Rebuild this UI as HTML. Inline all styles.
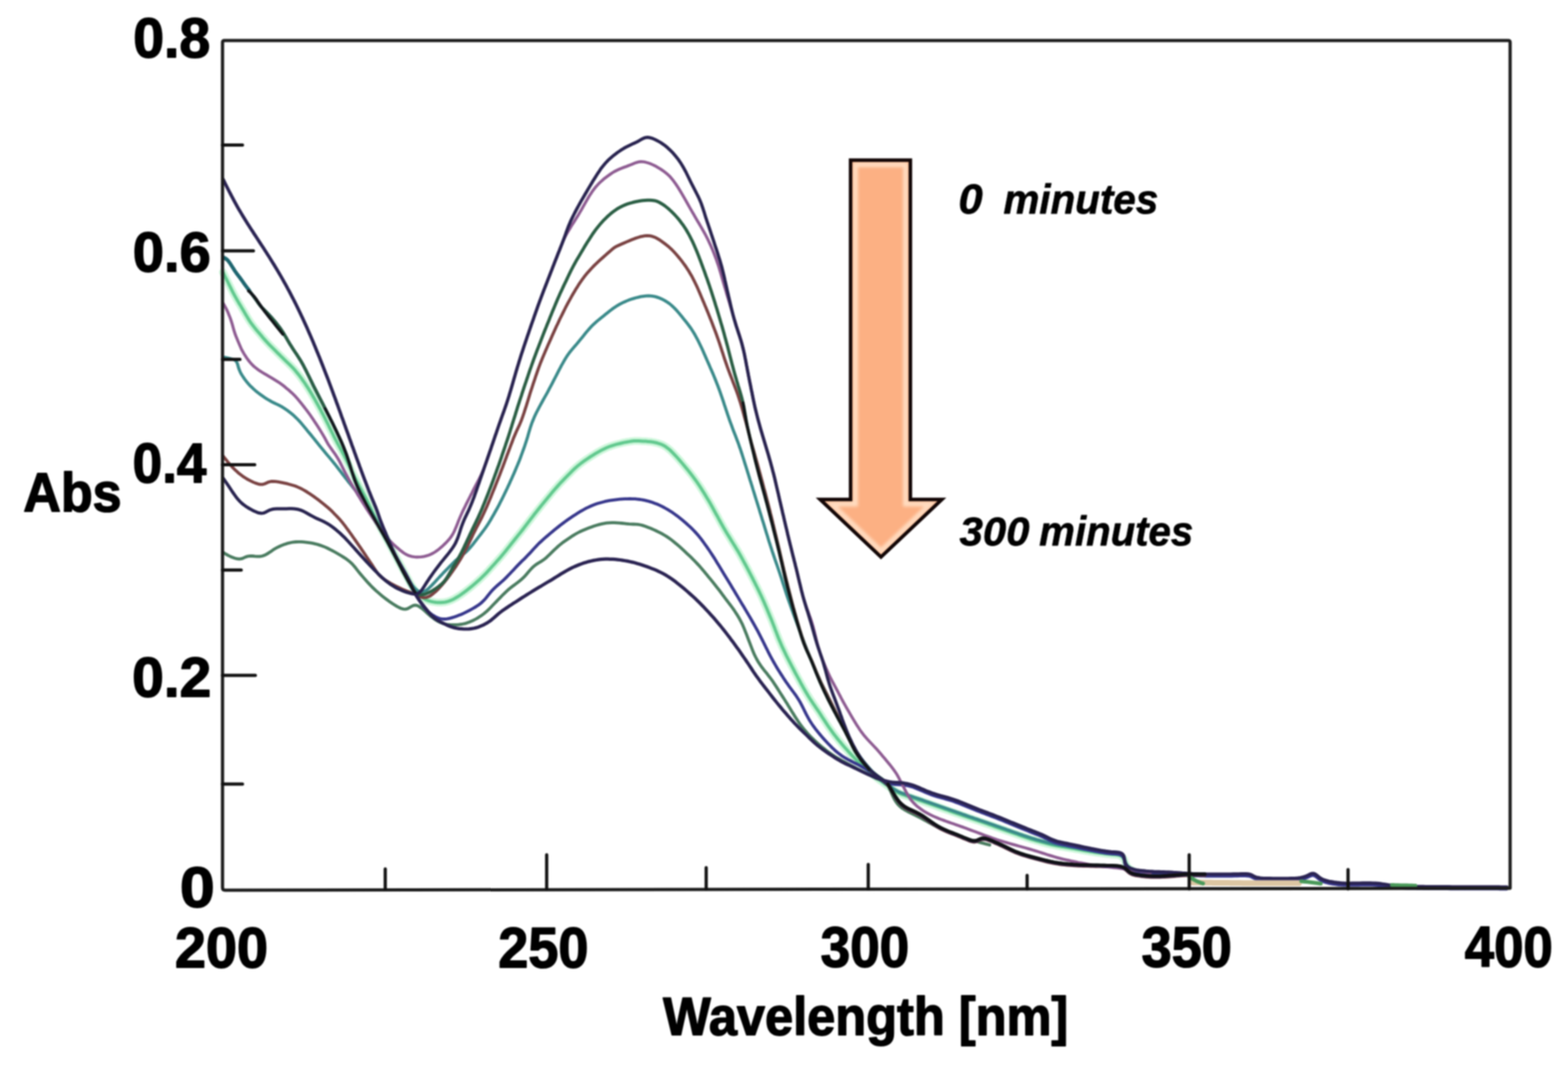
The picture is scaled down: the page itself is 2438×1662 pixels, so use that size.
<!DOCTYPE html>
<html><head><meta charset="utf-8"><style>
html,body{margin:0;padding:0;background:#fff;}
#c{position:relative;width:2438px;height:1662px;overflow:hidden;background:#fff;}
svg{position:absolute;left:0;top:0;filter:blur(1.1px);}
.ax{font-family:"Liberation Sans",Arial,sans-serif;font-weight:bold;fill:#000;stroke:#000;stroke-width:2.2px;stroke-linejoin:round;}
.lb{font-family:"Liberation Sans",Arial,sans-serif;font-weight:bold;font-style:italic;fill:#000;stroke:#000;stroke-width:1px;stroke-linejoin:round;}
</style></head><body><div id="c">
<svg width="2438" height="1662" viewBox="0 0 2438 1662">
<g fill="none" stroke-linecap="round" stroke-linejoin="round">
<path d="M346.6 423.2 L347.5 424.9 L348.8 427.6 L350.4 430.9 L352.2 434.4 L354.0 438.0 L355.7 441.5 L357.4 444.8 L359.0 448.1 L360.6 451.5 L362.3 454.8 L364.1 458.2 L366.0 461.6 L367.9 465.0 L369.9 468.4 L371.9 471.9 L374.0 475.3 L376.0 478.7 L378.0 482.1 L380.0 485.5 L382.0 488.9 L384.0 492.3 L386.0 495.6 L388.0 498.9 L390.1 502.0 L392.4 505.1 L394.7 508.1 L397.0 511.0 L399.4 513.8 L401.8 516.6 L404.2 519.4 L406.5 522.2 L408.9 525.1 L411.5 528.0 L414.2 531.0 L417.0 533.9 L419.6 536.7 L422.4 539.5 L425.2 542.3 L428.2 545.3 L431.1 548.2 L434.1 551.1 L436.9 554.0 L439.8 556.7 L442.6 559.5 L445.4 562.2 L448.1 564.8 L450.8 567.3 L453.4 569.9 L456.0 572.6 L458.5 575.4 L460.9 578.3 L463.2 581.1 L465.5 584.0 L467.7 586.9 L469.9 590.0 L472.1 593.1 L474.4 596.4 L476.6 599.8 L478.8 603.1 L480.8 606.4 L482.8 609.6 L484.7 612.8 L486.6 616.1 L488.6 619.4 L490.5 622.8 L492.4 626.2 L494.4 629.7 L496.3 633.2 L498.2 636.7 L500.0 640.2 L501.9 643.7 L503.7 647.2 L505.5 650.7 L507.3 654.3 L509.1 657.9 L510.9 661.5 L512.6 665.1 L514.4 668.7 L516.1 672.1 L517.8 675.5 L519.4 678.9 L521.2 682.4 L523.1 685.9 L525.0 689.6 L526.9 693.1 L528.8 696.6 L530.6 699.9 L532.4 703.3 L534.2 706.7 L536.0 710.2 L537.8 713.6 L539.5 717.1 L541.2 720.6 L542.9 724.1 L544.6 727.6 L546.3 731.2 L547.9 734.7 L549.6 738.2 L551.3 741.6 L553.1 745.1 L554.9 748.6 L556.8 752.2 L558.6 755.7 L560.5 759.1 L562.4 762.6 L564.3 766.1 L566.2 769.6 L568.0 773.1 L569.8 776.6 L571.5 780.1 L573.2 783.6 L574.9 787.2 L576.6 790.7 L578.3 794.3 L580.0 797.8 L581.7 801.3 L583.4 804.7 L585.1 808.2 L586.9 811.7 L588.8 815.3 L590.7 818.8 L592.6 822.3 L594.4 825.7 L596.3 829.1 L598.1 832.6 L600.0 836.0 L601.9 839.5 L603.8 843.0 L605.6 846.5 L607.5 850.0 L609.4 853.5 L611.3 857.0 L613.1 860.5 L615.0 864.0 L616.9 867.5 L618.8 871.1 L620.6 874.6 L622.5 878.1 L624.4 881.6 L626.2 885.1 L628.1 888.6 L630.0 892.0 L631.8 895.4 L633.7 898.9 L635.5 902.3 L637.3 905.7 L639.2 909.0 L641.1 912.2 L643.1 915.2 L645.4 918.2 L647.9 921.2 L650.7 924.0 L653.6 926.6 L656.7 929.0 L659.8 931.0 L663.2 932.7 L666.7 934.1 L670.4 935.2 L674.2 935.9 L677.9 936.4 L681.6 936.7 L685.3 936.8 L689.1 936.6 L692.8 936.0 L696.3 935.1 L699.8 933.9 L703.1 932.5 L706.3 930.9 L709.5 929.0 L712.7 927.1 L715.9 925.0 L719.0 922.8 L722.1 920.6 L725.2 918.2 L728.3 915.8 L731.4 913.3 L734.4 910.8 L737.3 908.4 L740.2 905.9 L743.0 903.4 L745.9 900.8 L748.6 898.2 L751.4 895.5 L754.2 892.7 L756.9 889.9 L759.6 887.0 L762.2 884.1 L764.8 881.2 L767.4 878.4 L769.9 875.6 L772.3 872.9 L774.8 870.1 L777.3 867.3 L779.8 864.4 L782.2 861.5 L784.7 858.5 L787.2 855.4 L789.6 852.3 L792.1 849.2 L794.5 846.1 L797.0 843.0 L799.5 839.9 L801.9 836.9 L804.4 833.8 L806.8 830.8 L809.3 827.7 L811.7 824.6 L814.1 821.6 L816.4 818.5 L818.7 815.5 L821.0 812.5 L823.3 809.5 L825.6 806.5 L827.9 803.5 L830.2 800.4 L832.6 797.4 L835.0 794.4 L837.4 791.4 L839.8 788.4 L842.3 785.3 L844.8 782.2 L847.3 779.2 L849.8 776.2 L852.2 773.1 L854.8 770.1 L857.3 767.0 L859.9 763.9 L862.5 760.9 L865.1 758.0 L867.7 755.0 L870.3 752.1 L873.0 749.3 L875.7 746.5 L878.3 743.7 L881.0 741.0 L883.7 738.3 L886.3 735.7 L888.9 733.1 L891.4 730.6 L894.0 728.1 L896.8 725.6 L899.8 723.1 L903.0 720.6 L906.1 718.3 L909.1 716.1 L912.2 714.0 L915.4 711.9 L918.7 709.7 L922.1 707.6 L925.5 705.4 L929.1 703.3 L932.6 701.3 L936.1 699.4 L939.7 697.7 L943.3 696.0 L947.0 694.5 L951.0 693.1 L955.0 691.8 L959.1 690.7 L963.1 689.7 L967.1 688.7 L970.8 687.9 L974.5 687.2 L978.1 686.6 L981.8 686.0 L985.7 685.6 L989.6 685.4 L993.2 685.5 L996.6 685.7 L1000.2 685.9 L1003.8 686.1 L1007.5 686.4 L1011.3 686.7 L1015.0 687.3 L1018.7 688.0 L1022.1 688.8 L1025.3 689.8 L1028.6 691.0 L1032.1 692.7 L1035.6 694.9 L1039.0 697.4 L1041.9 699.9 L1044.5 702.4 L1047.0 705.0 L1049.6 707.7 L1052.3 710.6 L1055.0 713.6 L1057.8 716.8 L1060.5 720.0 L1063.3 723.3 L1066.0 726.6 L1068.7 729.8 L1071.2 733.0 L1073.7 736.1 L1076.1 739.2 L1078.5 742.4 L1080.9 745.7 L1083.2 748.9 L1085.4 752.1 L1087.6 755.4 L1089.7 758.6 L1091.7 761.8 L1093.8 765.1 L1095.8 768.4 L1097.8 771.8 L1099.9 775.2 L1101.9 778.6 L1103.9 781.9 L1105.8 785.3 L1107.7 788.7 L1109.6 792.2 L1111.5 795.7 L1113.4 799.2 L1115.4 802.7 L1117.3 806.3 L1119.2 809.8 L1121.1 813.3 L1123.1 816.8 L1125.0 820.3 L1127.0 823.6 L1128.9 826.9 L1130.9 830.2 L1132.9 833.4 L1134.9 836.6 L1136.8 839.8 L1138.8 843.0 L1140.8 846.2 L1142.8 849.4 L1144.8 852.7 L1146.9 856.1 L1148.9 859.6 L1150.9 863.1 L1152.8 866.5 L1154.7 869.9 L1156.5 873.3 L1158.4 876.8 L1160.3 880.3 L1162.2 883.9 L1164.1 887.5 L1166.0 891.2 L1167.9 894.9 L1169.8 898.5 L1171.6 902.1 L1173.4 905.7 L1175.1 909.1 L1176.8 912.5 L1178.5 915.9 L1180.2 919.4 L1181.9 923.0 L1183.7 926.8 L1185.4 930.5 L1187.0 934.1 L1188.5 937.6 L1190.0 941.0 L1191.5 944.4 L1192.9 947.8 L1194.3 951.2 L1195.8 954.7 L1197.2 958.2 L1198.7 961.8 L1200.1 965.3 L1201.5 968.9 L1202.9 972.4 L1204.3 976.0 L1205.6 979.6 L1207.0 983.2 L1208.4 986.9 L1209.8 990.5 L1211.2 994.1 L1212.7 997.6 L1214.3 1001.2 L1215.8 1004.8 L1217.5 1008.3 L1219.2 1011.9 L1220.9 1015.5 L1222.6 1019.1 L1224.4 1022.6 L1226.2 1026.2 L1228.0 1029.7 L1229.8 1033.2 L1231.6 1036.6 L1233.4 1040.0 L1235.2 1043.5 L1237.0 1047.0 L1239.0 1050.6 L1240.9 1054.2 L1242.9 1057.8 L1244.8 1061.4 L1246.8 1064.9 L1248.7 1068.4 L1250.6 1071.7 L1252.4 1074.9 L1254.3 1078.1 L1256.2 1081.3 L1258.2 1084.5 L1260.2 1087.7 L1262.2 1090.7 L1264.2 1093.7 L1266.3 1096.6 L1268.4 1099.8 L1270.6 1103.0 L1272.8 1106.2 L1274.8 1109.2 L1276.8 1112.3 L1278.8 1115.5 L1280.9 1118.7 L1283.1 1122.0 L1285.3 1125.4 L1287.6 1128.8 L1289.9 1132.1 L1292.3 1135.5 L1294.6 1138.7 L1297.0 1141.9 L1299.4 1145.0 L1301.8 1148.1 L1304.3 1151.2 L1306.8 1154.2 L1309.4 1157.3 L1312.0 1160.3 L1314.6 1163.3 L1317.2 1166.2 L1319.7 1169.1 L1322.2 1171.8 L1324.7 1174.5 L1327.4 1177.3 L1330.3 1180.3 L1333.3 1183.3 L1336.3 1186.2 L1339.3 1188.9 L1342.3 1191.5 L1345.1 1194.1 L1348.0 1196.5 L1350.8 1199.0 L1353.9 1201.6 L1357.1 1204.2 L1360.3 1206.9 L1363.4 1209.4 L1366.4 1211.7 L1369.4 1214.0 L1372.5 1216.3 L1375.6 1218.6 L1378.8 1220.8 L1381.9 1223.0 L1384.7 1225.0 L1387.4 1226.9 L1390.1 1228.8 L1393.1 1230.7 L1396.4 1232.5 L1399.7 1234.0 L1403.1 1235.3 L1406.6 1236.5 L1410.3 1237.8 L1414.2 1239.1 L1418.2 1240.4 L1422.2 1241.7 L1426.2 1243.0 L1430.0 1244.3 L1433.8 1245.6 L1437.4 1246.9 L1441.0 1248.2 L1444.6 1249.4 L1448.2 1250.7 L1451.7 1251.9 L1455.3 1253.2 L1458.9 1254.5 L1462.4 1255.7 L1466.0 1257.0 L1469.6 1258.3 L1473.1 1259.5 L1476.7 1260.8 L1480.3 1262.1 L1483.8 1263.3 L1487.4 1264.6 L1491.0 1265.8 L1494.6 1267.1 L1498.2 1268.4 L1501.8 1269.6 L1505.5 1270.9 L1509.2 1272.2 L1512.9 1273.4 L1516.6 1274.7 L1520.3 1275.9 L1524.0 1277.2 L1527.7 1278.5 L1531.3 1279.7 L1535.0 1281.0 L1538.6 1282.3 L1542.2 1283.5 L1545.8 1284.8 L1549.3 1286.1 L1552.9 1287.3 L1556.4 1288.6 L1560.0 1289.8 L1563.6 1291.1 L1567.2 1292.4 L1570.8 1293.6 L1574.5 1294.9 L1578.2 1296.2 L1581.9 1297.5 L1585.6 1298.9 L1589.3 1300.1 L1593.0 1301.4 L1596.7 1302.6 L1600.4 1303.8 L1604.1 1305.0 L1607.9 1306.1 L1611.7 1307.3 L1615.6 1308.3 L1619.4 1309.4 L1623.3 1310.4 L1627.0 1311.4 L1630.8 1312.3 L1634.5 1313.2 L1638.2 1314.0 L1642.1 1314.8 L1646.1 1315.6 L1650.0 1316.2 L1653.8 1316.9 L1657.6 1317.5 L1661.3 1318.1 L1665.1 1318.7 L1668.9 1319.4 L1672.6 1320.0 L1676.4 1320.7 L1680.1 1321.4 L1683.8 1322.1 L1687.6 1322.7 L1691.3 1323.4 L1695.0 1324.0 L1698.8 1324.6 L1702.6 1325.2 L1706.5 1325.7 L1710.3 1326.2 L1714.0 1326.8 L1717.7 1327.3 L1721.4 1327.7 L1725.3 1328.1 L1729.2 1328.4 L1733.2 1328.7 L1736.9 1329.0 L1740.3 1329.7 L1743.3 1330.9 L1745.7 1333.0 L1747.6 1335.9 L1749.0 1339.3 L1750.3 1342.9 L1751.9 1346.3 L1754.4 1349.2 L1757.4 1351.5 L1760.4 1353.3 L1762.6 1354.3" stroke="#cff7dc" stroke-width="12"/>
<path d="M347.3 858.9 L349.1 860.2 L351.9 861.9 L355.0 863.7 L358.2 865.2 L361.4 866.5 L364.8 867.7 L368.3 868.7 L371.9 869.1 L375.4 868.7 L378.7 867.4 L382.1 865.9 L385.6 864.8 L389.2 864.4 L392.7 864.5 L396.4 864.9 L400.2 865.2 L404.0 865.1 L407.7 864.5 L411.2 863.3 L414.5 861.6 L417.8 859.6 L421.1 857.4 L424.4 855.1 L427.7 853.0 L431.1 851.1 L434.6 849.5 L438.1 847.9 L441.7 846.6 L445.2 845.4 L448.8 844.3 L452.4 843.5 L456.2 842.9 L460.1 842.5 L464.0 842.3 L468.0 842.4 L471.9 842.7 L475.9 843.1 L479.8 843.6 L483.6 844.2 L487.4 844.9 L491.3 845.8 L495.1 846.9 L498.8 848.1 L502.5 849.4 L506.1 850.9 L509.6 852.5 L513.2 854.3 L516.7 856.1 L520.2 858.0 L523.7 860.0 L527.1 862.0 L530.5 864.0 L533.9 866.1 L537.3 868.3 L540.5 870.6 L543.5 873.0 L546.3 875.5 L548.9 878.2 L551.4 881.1 L553.7 884.0 L556.1 887.1 L558.6 890.2 L561.0 893.1 L563.5 896.0 L565.9 898.8 L568.4 901.6 L571.0 904.6 L573.7 907.5 L576.4 910.4 L579.2 913.2 L582.1 916.0 L585.0 918.7 L588.0 921.3 L591.1 924.0 L594.2 926.6 L597.4 929.1 L600.5 931.5 L603.6 933.8 L606.7 936.1 L610.0 938.3 L613.5 940.5 L617.0 942.6 L620.5 944.5 L623.8 946.0 L627.1 946.9 L630.3 947.1 L633.6 946.4 L636.7 944.7 L639.8 942.8 L642.7 941.4 L645.6 940.9 L648.6 941.4 L651.6 942.9 L654.6 944.9 L657.5 947.2 L660.3 949.6 L663.1 952.2 L666.1 954.9 L669.0 957.5 L672.1 959.9 L675.1 962.2 L678.2 964.2 L681.4 966.2 L684.7 967.8 L688.1 969.1 L691.7 970.1 L695.3 970.8 L699.1 971.2 L702.9 971.4 L706.8 971.4 L710.6 971.3 L714.4 971.0 L718.2 970.5 L722.1 969.7 L725.8 968.6 L729.5 967.3 L733.0 965.8 L736.5 964.2 L739.7 962.5 L743.0 960.6 L746.1 958.6 L749.3 956.4 L752.4 954.1 L755.3 951.7 L758.2 949.1 L761.0 946.4 L763.7 943.6 L766.5 940.7 L769.2 937.9 L772.0 935.0 L774.7 932.2 L777.4 929.5 L780.1 926.7 L782.8 923.9 L785.6 921.2 L788.5 918.5 L791.4 915.9 L794.5 913.4 L797.6 911.0 L800.8 908.7 L803.9 906.3 L807.1 903.8 L810.1 901.4 L813.0 898.7 L815.9 895.9 L818.6 892.9 L821.2 889.8 L823.8 886.8 L826.3 884.0 L828.9 881.4 L831.8 879.0 L834.7 876.9 L837.8 875.0 L840.9 873.2 L844.1 871.1 L847.1 868.8 L850.1 866.3 L853.0 863.6 L855.9 860.7 L858.9 857.8 L861.7 855.0 L864.5 852.4 L867.3 849.9 L870.0 847.5 L872.7 845.3 L875.4 843.2 L878.2 841.2 L881.2 839.2 L884.1 837.2 L887.1 835.2 L890.3 833.1 L893.7 831.0 L897.2 829.0 L901.0 827.0 L904.7 825.3 L908.3 823.7 L911.9 822.2 L915.6 820.8 L919.3 819.4 L923.2 818.0 L927.2 816.7 L931.2 815.6 L935.2 814.6 L939.1 813.8 L943.0 813.2 L947.0 812.8 L951.0 812.7 L955.0 812.7 L959.1 812.9 L963.1 813.2 L967.1 813.5 L970.8 813.9 L974.5 814.3 L978.0 814.7 L981.6 814.9 L985.3 815.0 L988.8 815.1 L992.2 815.4 L995.7 816.0 L999.2 816.9 L1002.6 818.0 L1005.9 819.2 L1009.1 820.4 L1012.5 821.8 L1016.1 823.4 L1019.7 825.0 L1023.4 826.8 L1027.1 828.7 L1030.8 830.7 L1034.3 832.8 L1037.7 834.9 L1040.9 837.1 L1044.0 839.4 L1047.1 841.8 L1050.1 844.3 L1053.2 846.9 L1056.3 849.5 L1059.3 852.3 L1062.3 855.0 L1065.2 857.7 L1068.0 860.4 L1070.8 863.0 L1073.5 865.6 L1076.3 868.3 L1079.1 871.2 L1082.0 874.1 L1084.7 877.0 L1087.4 879.9 L1089.9 882.8 L1092.3 885.6 L1094.8 888.5 L1097.2 891.5 L1099.7 894.4 L1102.1 897.4 L1104.5 900.3 L1106.9 903.2 L1109.3 906.2 L1111.7 909.2 L1114.0 912.2 L1116.4 915.2 L1118.8 918.3 L1121.2 921.5 L1123.5 924.7 L1125.9 927.8 L1128.1 930.8 L1130.3 933.7 L1132.5 936.6 L1134.7 939.5 L1136.9 942.4 L1139.1 945.4 L1141.3 948.5 L1143.4 951.7 L1145.6 955.1 L1147.7 958.6 L1149.8 962.1 L1151.7 965.7 L1153.5 969.1 L1155.1 972.6 L1156.6 976.1 L1158.1 979.8 L1159.6 983.6 L1161.1 987.4 L1162.6 991.4 L1164.1 995.3 L1165.6 999.2 L1167.1 1003.1 L1168.6 1007.0 L1170.0 1010.7 L1171.5 1014.3 L1173.0 1017.7 L1174.6 1021.0 L1176.4 1024.5 L1178.4 1028.1 L1180.7 1031.7 L1183.0 1035.1 L1185.3 1038.3 L1187.7 1041.4 L1190.0 1044.2 L1192.3 1047.1 L1194.5 1049.9 L1196.7 1052.7 L1198.9 1055.6 L1201.1 1058.7 L1203.2 1061.8 L1205.2 1064.8 L1207.2 1067.9 L1209.1 1070.9 L1211.1 1074.0 L1213.1 1077.2 L1215.3 1080.6 L1217.5 1084.1 L1219.7 1087.5 L1221.7 1090.7 L1223.7 1093.8 L1225.6 1097.0 L1227.6 1100.2 L1229.6 1103.5 L1231.7 1106.9 L1233.9 1110.4 L1236.0 1113.9 L1238.3 1117.3 L1240.5 1120.7 L1242.8 1124.1 L1245.1 1127.3 L1247.5 1130.5 L1249.9 1133.5 L1252.5 1136.6 L1255.1 1139.6 L1257.9 1142.6 L1260.8 1145.6 L1263.7 1148.5 L1266.6 1151.3 L1269.6 1154.0 L1272.6 1156.7 L1275.6 1159.3 L1278.6 1161.8 L1281.6 1164.2 L1284.6 1166.6 L1287.7 1168.9 L1290.9 1171.3 L1294.4 1173.7 L1297.9 1176.0 L1301.5 1178.2 L1305.2 1180.3 L1308.8 1182.3 L1312.3 1184.2 L1315.8 1186.1 L1319.1 1187.8 L1322.4 1189.6 L1325.7 1191.3 L1329.2 1193.2 L1332.8 1195.1 L1336.4 1197.0 L1339.8 1198.8 L1343.0 1200.5 L1346.1 1202.0 L1349.2 1203.6 L1352.4 1205.2 L1355.8 1206.9 L1359.2 1208.6 L1362.6 1210.3 L1365.7 1211.8 L1368.8 1213.3 L1371.9 1214.7 L1375.0 1216.3 L1377.8 1218.4 L1380.1 1221.0 L1382.0 1224.0 L1383.5 1227.1 L1385.0 1230.6 L1386.6 1234.2 L1388.3 1238.0 L1390.2 1241.8 L1392.3 1245.4 L1394.6 1248.7 L1397.1 1251.6 L1399.8 1254.2 L1402.7 1256.5 L1405.9 1258.6 L1409.2 1260.5 L1412.6 1262.4 L1416.2 1264.2 L1419.7 1265.9 L1423.3 1267.6 L1426.8 1269.4 L1430.3 1271.2 L1433.7 1273.0 L1437.1 1274.9 L1440.6 1276.7 L1444.0 1278.6 L1447.4 1280.5 L1450.8 1282.3 L1454.1 1284.1 L1457.5 1285.9 L1460.9 1287.5 L1464.3 1289.2 L1467.8 1290.8 L1471.3 1292.3 L1474.8 1293.8 L1478.3 1295.2 L1481.8 1296.6 L1485.3 1297.9 L1488.9 1299.2 L1492.5 1300.5 L1496.2 1301.7 L1500.0 1303.0 L1503.9 1304.2 L1508.0 1305.4 L1512.2 1306.6 L1516.6 1307.8 L1520.9 1309.0 L1525.2 1310.1 L1529.1 1311.1 L1532.7 1312.1 L1535.8 1312.9 L1538.0 1313.5 L1538.8 1313.7" stroke="#4a7c60" stroke-width="4.8"/>
<path d="M346.6 423.2 L347.5 424.9 L348.8 427.6 L350.4 430.9 L352.2 434.4 L354.0 438.0 L355.7 441.5 L357.4 444.8 L359.0 448.1 L360.6 451.5 L362.3 454.8 L364.1 458.2 L366.0 461.6 L367.9 465.0 L369.9 468.4 L371.9 471.9 L374.0 475.3 L376.0 478.7 L378.0 482.1 L380.0 485.5 L382.0 488.9 L384.0 492.3 L386.0 495.6 L388.0 498.9 L390.1 502.0 L392.4 505.1 L394.7 508.1 L397.0 511.0 L399.4 513.8 L401.8 516.6 L404.2 519.4 L406.5 522.2 L408.9 525.1 L411.5 528.0 L414.2 531.0 L417.0 533.9 L419.6 536.7 L422.4 539.5 L425.2 542.3 L428.2 545.3 L431.1 548.2 L434.1 551.1 L436.9 554.0 L439.8 556.7 L442.6 559.5 L445.4 562.2 L448.1 564.8 L450.8 567.3 L453.4 569.9 L456.0 572.6 L458.5 575.4 L460.9 578.3 L463.2 581.1 L465.5 584.0 L467.7 586.9 L469.9 590.0 L472.1 593.1 L474.4 596.4 L476.6 599.8 L478.8 603.1 L480.8 606.4 L482.8 609.6 L484.7 612.8 L486.6 616.1 L488.6 619.4 L490.5 622.8 L492.4 626.2 L494.4 629.7 L496.3 633.2 L498.2 636.7 L500.0 640.2 L501.9 643.7 L503.7 647.2 L505.5 650.7 L507.3 654.3 L509.1 657.9 L510.9 661.5 L512.6 665.1 L514.4 668.7 L516.1 672.1 L517.8 675.5 L519.4 678.9 L521.2 682.4 L523.1 685.9 L525.0 689.6 L526.9 693.1 L528.8 696.6 L530.6 699.9 L532.4 703.3 L534.2 706.7 L536.0 710.2 L537.8 713.6 L539.5 717.1 L541.2 720.6 L542.9 724.1 L544.6 727.6 L546.3 731.2 L547.9 734.7 L549.6 738.2 L551.3 741.6 L553.1 745.1 L554.9 748.6 L556.8 752.2 L558.6 755.7 L560.5 759.1 L562.4 762.6 L564.3 766.1 L566.2 769.6 L568.0 773.1 L569.8 776.6 L571.5 780.1 L573.2 783.6 L574.9 787.2 L576.6 790.7 L578.3 794.3 L580.0 797.8 L581.7 801.3 L583.4 804.7 L585.1 808.2 L586.9 811.7 L588.8 815.3 L590.7 818.8 L592.6 822.3 L594.4 825.7 L596.3 829.1 L598.1 832.6 L600.0 836.0 L601.9 839.5 L603.8 843.0 L605.6 846.5 L607.5 850.0 L609.4 853.5 L611.3 857.0 L613.1 860.5 L615.0 864.0 L616.9 867.5 L618.8 871.1 L620.6 874.6 L622.5 878.1 L624.4 881.6 L626.2 885.1 L628.1 888.6 L630.0 892.0 L631.8 895.4 L633.7 898.9 L635.5 902.3 L637.3 905.7 L639.2 909.0 L641.1 912.2 L643.1 915.2 L645.4 918.2 L647.9 921.2 L650.7 924.0 L653.6 926.6 L656.7 929.0 L659.8 931.0 L663.2 932.7 L666.7 934.1 L670.4 935.2 L674.2 935.9 L677.9 936.4 L681.6 936.7 L685.3 936.8 L689.1 936.6 L692.8 936.0 L696.3 935.1 L699.8 933.9 L703.1 932.5 L706.3 930.9 L709.5 929.0 L712.7 927.1 L715.9 925.0 L719.0 922.8 L722.1 920.6 L725.2 918.2 L728.3 915.8 L731.4 913.3 L734.4 910.8 L737.3 908.4 L740.2 905.9 L743.0 903.4 L745.9 900.8 L748.6 898.2 L751.4 895.5 L754.2 892.7 L756.9 889.9 L759.6 887.0 L762.2 884.1 L764.8 881.2 L767.4 878.4 L769.9 875.6 L772.3 872.9 L774.8 870.1 L777.3 867.3 L779.8 864.4 L782.2 861.5 L784.7 858.5 L787.2 855.4 L789.6 852.3 L792.1 849.2 L794.5 846.1 L797.0 843.0 L799.5 839.9 L801.9 836.9 L804.4 833.8 L806.8 830.8 L809.3 827.7 L811.7 824.6 L814.1 821.6 L816.4 818.5 L818.7 815.5 L821.0 812.5 L823.3 809.5 L825.6 806.5 L827.9 803.5 L830.2 800.4 L832.6 797.4 L835.0 794.4 L837.4 791.4 L839.8 788.4 L842.3 785.3 L844.8 782.2 L847.3 779.2 L849.8 776.2 L852.2 773.1 L854.8 770.1 L857.3 767.0 L859.9 763.9 L862.5 760.9 L865.1 758.0 L867.7 755.0 L870.3 752.1 L873.0 749.3 L875.7 746.5 L878.3 743.7 L881.0 741.0 L883.7 738.3 L886.3 735.7 L888.9 733.1 L891.4 730.6 L894.0 728.1 L896.8 725.6 L899.8 723.1 L903.0 720.6 L906.1 718.3 L909.1 716.1 L912.2 714.0 L915.4 711.9 L918.7 709.7 L922.1 707.6 L925.5 705.4 L929.1 703.3 L932.6 701.3 L936.1 699.4 L939.7 697.7 L943.3 696.0 L947.0 694.5 L951.0 693.1 L955.0 691.8 L959.1 690.7 L963.1 689.7 L967.1 688.7 L970.8 687.9 L974.5 687.2 L978.1 686.6 L981.8 686.0 L985.7 685.6 L989.6 685.4 L993.2 685.5 L996.6 685.7 L1000.2 685.9 L1003.8 686.1 L1007.5 686.4 L1011.3 686.7 L1015.0 687.3 L1018.7 688.0 L1022.1 688.8 L1025.3 689.8 L1028.6 691.0 L1032.1 692.7 L1035.6 694.9 L1039.0 697.4 L1041.9 699.9 L1044.5 702.4 L1047.0 705.0 L1049.6 707.7 L1052.3 710.6 L1055.0 713.6 L1057.8 716.8 L1060.5 720.0 L1063.3 723.3 L1066.0 726.6 L1068.7 729.8 L1071.2 733.0 L1073.7 736.1 L1076.1 739.2 L1078.5 742.4 L1080.9 745.7 L1083.2 748.9 L1085.4 752.1 L1087.6 755.4 L1089.7 758.6 L1091.7 761.8 L1093.8 765.1 L1095.8 768.4 L1097.8 771.8 L1099.9 775.2 L1101.9 778.6 L1103.9 781.9 L1105.8 785.3 L1107.7 788.7 L1109.6 792.2 L1111.5 795.7 L1113.4 799.2 L1115.4 802.7 L1117.3 806.3 L1119.2 809.8 L1121.1 813.3 L1123.1 816.8 L1125.0 820.3 L1127.0 823.6 L1128.9 826.9 L1130.9 830.2 L1132.9 833.4 L1134.9 836.6 L1136.8 839.8 L1138.8 843.0 L1140.8 846.2 L1142.8 849.4 L1144.8 852.7 L1146.9 856.1 L1148.9 859.6 L1150.9 863.1 L1152.8 866.5 L1154.7 869.9 L1156.5 873.3 L1158.4 876.8 L1160.3 880.3 L1162.2 883.9 L1164.1 887.5 L1166.0 891.2 L1167.9 894.9 L1169.8 898.5 L1171.6 902.1 L1173.4 905.7 L1175.1 909.1 L1176.8 912.5 L1178.5 915.9 L1180.2 919.4 L1181.9 923.0 L1183.7 926.8 L1185.4 930.5 L1187.0 934.1 L1188.5 937.6 L1190.0 941.0 L1191.5 944.4 L1192.9 947.8 L1194.3 951.2 L1195.8 954.7 L1197.2 958.2 L1198.7 961.8 L1200.1 965.3 L1201.5 968.9 L1202.9 972.4 L1204.3 976.0 L1205.6 979.6 L1207.0 983.2 L1208.4 986.9 L1209.8 990.5 L1211.2 994.1 L1212.7 997.6 L1214.3 1001.2 L1215.8 1004.8 L1217.5 1008.3 L1219.2 1011.9 L1220.9 1015.5 L1222.6 1019.1 L1224.4 1022.6 L1226.2 1026.2 L1228.0 1029.7 L1229.8 1033.2 L1231.6 1036.6 L1233.4 1040.0 L1235.2 1043.5 L1237.0 1047.0 L1239.0 1050.6 L1240.9 1054.2 L1242.9 1057.8 L1244.8 1061.4 L1246.8 1064.9 L1248.7 1068.4 L1250.6 1071.7 L1252.4 1074.9 L1254.3 1078.1 L1256.2 1081.3 L1258.2 1084.5 L1260.2 1087.7 L1262.2 1090.7 L1264.2 1093.7 L1266.3 1096.6 L1268.4 1099.8 L1270.6 1103.0 L1272.8 1106.2 L1274.8 1109.2 L1276.8 1112.3 L1278.8 1115.5 L1280.9 1118.7 L1283.1 1122.0 L1285.3 1125.4 L1287.6 1128.8 L1289.9 1132.1 L1292.3 1135.5 L1294.6 1138.7 L1297.0 1141.9 L1299.4 1145.0 L1301.8 1148.1 L1304.3 1151.2 L1306.8 1154.2 L1309.4 1157.3 L1312.0 1160.3 L1314.6 1163.3 L1317.2 1166.2 L1319.7 1169.1 L1322.2 1171.8 L1324.7 1174.5 L1327.4 1177.3 L1330.3 1180.3 L1333.3 1183.3 L1336.3 1186.2 L1339.3 1188.9 L1342.3 1191.5 L1345.1 1194.1 L1348.0 1196.5 L1350.8 1199.0 L1353.9 1201.6 L1357.1 1204.2 L1360.3 1206.9 L1363.4 1209.4 L1366.4 1211.7 L1369.4 1214.0 L1372.5 1216.3 L1375.6 1218.6 L1378.8 1220.8 L1381.9 1223.0 L1384.7 1225.0 L1387.4 1226.9 L1390.1 1228.8 L1393.1 1230.7 L1396.4 1232.5 L1399.7 1234.0 L1403.1 1235.3 L1406.6 1236.5 L1410.3 1237.8 L1414.2 1239.1 L1418.2 1240.4 L1422.2 1241.7 L1426.2 1243.0 L1430.0 1244.3 L1433.8 1245.6 L1437.4 1246.9 L1441.0 1248.2 L1444.6 1249.4 L1448.2 1250.7 L1451.7 1251.9 L1455.3 1253.2 L1458.9 1254.5 L1462.4 1255.7 L1466.0 1257.0 L1469.6 1258.3 L1473.1 1259.5 L1476.7 1260.8 L1480.3 1262.1 L1483.8 1263.3 L1487.4 1264.6 L1491.0 1265.8 L1494.6 1267.1 L1498.2 1268.4 L1501.8 1269.6 L1505.5 1270.9 L1509.2 1272.2 L1512.9 1273.4 L1516.6 1274.7 L1520.3 1275.9 L1524.0 1277.2 L1527.7 1278.5 L1531.3 1279.7 L1535.0 1281.0 L1538.6 1282.3 L1542.2 1283.5 L1545.8 1284.8 L1549.3 1286.1 L1552.9 1287.3 L1556.4 1288.6 L1560.0 1289.8 L1563.6 1291.1 L1567.2 1292.4 L1570.8 1293.6 L1574.5 1294.9 L1578.2 1296.2 L1581.9 1297.5 L1585.6 1298.9 L1589.3 1300.1 L1593.0 1301.4 L1596.7 1302.6 L1600.4 1303.8 L1604.1 1305.0 L1607.9 1306.1 L1611.7 1307.3 L1615.6 1308.3 L1619.4 1309.4 L1623.3 1310.4 L1627.0 1311.4 L1630.8 1312.3 L1634.5 1313.2 L1638.2 1314.0 L1642.1 1314.8 L1646.1 1315.6 L1650.0 1316.2 L1653.8 1316.9 L1657.6 1317.5 L1661.3 1318.1 L1665.1 1318.7 L1668.9 1319.4 L1672.6 1320.0 L1676.4 1320.7 L1680.1 1321.4 L1683.8 1322.1 L1687.6 1322.7 L1691.3 1323.4 L1695.0 1324.0 L1698.8 1324.6 L1702.6 1325.2 L1706.5 1325.7 L1710.3 1326.2 L1714.0 1326.8 L1717.7 1327.3 L1721.4 1327.7 L1725.3 1328.1 L1729.2 1328.4 L1733.2 1328.7 L1736.9 1329.0 L1740.3 1329.7 L1743.3 1330.9 L1745.7 1333.0 L1747.6 1335.9 L1749.0 1339.3 L1750.3 1342.9 L1751.9 1346.3 L1754.4 1349.2 L1757.4 1351.5 L1760.4 1353.3 L1762.6 1354.3" stroke="#62c98f" stroke-width="5.0"/>
<path d="M347.4 555.3 L349.6 555.7 L352.8 556.4 L356.4 557.2 L360.0 558.0 L363.3 559.0 L366.0 560.5 L368.0 562.8 L369.3 565.9 L370.3 569.5 L371.5 573.5 L373.0 577.2 L374.7 580.7 L376.6 583.8 L378.7 587.0 L380.9 590.1 L383.3 593.3 L385.9 596.4 L388.6 599.4 L391.4 602.1 L394.2 604.8 L397.1 607.3 L400.2 609.8 L403.3 612.2 L406.5 614.5 L409.7 616.8 L412.9 618.9 L416.2 621.0 L419.5 622.9 L422.9 624.8 L426.3 626.5 L429.7 628.1 L433.0 629.7 L436.3 631.4 L439.5 633.2 L442.7 635.3 L445.9 637.4 L449.0 639.7 L452.1 642.1 L455.1 644.6 L458.0 647.3 L460.8 649.9 L463.5 652.6 L466.1 655.4 L468.6 658.3 L471.1 661.2 L473.6 664.2 L476.1 667.3 L478.6 670.4 L481.1 673.4 L483.6 676.4 L486.1 679.5 L488.6 682.5 L491.1 685.7 L493.6 688.8 L496.1 691.9 L498.6 695.0 L501.1 698.0 L503.6 701.1 L506.2 704.2 L508.7 707.3 L511.3 710.3 L513.8 713.3 L516.3 716.2 L518.7 719.2 L521.1 722.1 L523.5 725.2 L525.8 728.2 L528.1 731.2 L530.3 734.2 L532.6 737.2 L534.8 740.1 L537.1 743.1 L539.5 746.1 L541.9 749.2 L544.4 752.3 L546.8 755.3 L549.3 758.4 L551.8 761.4 L554.2 764.5 L556.7 767.4 L559.2 770.4 L561.6 773.4 L564.1 776.4 L566.5 779.6 L568.8 782.8 L570.9 786.1 L573.0 789.3 L575.0 792.6 L577.1 796.0 L579.1 799.5 L581.1 803.0 L583.0 806.5 L585.0 810.0 L586.9 813.5 L588.8 816.9 L590.7 820.4 L592.6 823.9 L594.4 827.5 L596.3 831.0 L598.1 834.5 L600.0 838.0 L601.9 841.5 L603.8 845.1 L605.6 848.6 L607.5 852.1 L609.4 855.6 L611.3 859.1 L613.1 862.6 L615.0 866.0 L616.9 869.3 L618.8 872.7 L620.6 876.0 L622.5 879.3 L624.4 882.5 L626.3 885.7 L628.2 888.9 L630.1 892.3 L632.2 895.7 L634.3 899.3 L636.4 902.9 L638.6 906.3 L640.7 909.6 L643.0 912.5 L645.6 915.3 L648.5 917.8 L651.9 919.7 L655.4 920.3 L658.9 919.7 L662.0 918.2 L664.8 916.2 L667.5 913.8 L670.3 911.1 L673.2 908.0 L676.2 904.9 L679.1 901.7 L682.0 898.5 L684.8 895.5 L687.6 892.6 L690.3 889.7 L693.2 886.8 L696.0 883.9 L698.7 881.1 L701.4 878.5 L703.9 875.9 L706.4 873.5 L708.9 871.1 L711.6 868.7 L714.4 866.4 L717.3 864.1 L720.0 862.0 L722.8 859.7 L725.5 857.2 L728.1 854.6 L730.6 851.9 L733.1 849.0 L735.6 845.9 L738.0 842.8 L740.4 839.7 L742.8 836.6 L745.1 833.6 L747.4 830.7 L749.6 827.8 L751.8 824.9 L754.0 821.9 L756.3 818.6 L758.6 815.2 L760.7 811.8 L762.6 808.7 L764.4 805.5 L766.3 802.3 L768.2 799.0 L770.1 795.5 L772.1 792.0 L774.1 788.3 L776.1 784.6 L778.0 780.8 L779.9 777.1 L781.7 773.5 L783.4 770.0 L785.1 766.5 L786.8 762.9 L788.6 759.3 L790.3 755.6 L792.0 751.9 L793.7 748.1 L795.4 744.4 L797.0 740.8 L798.6 737.2 L800.1 733.7 L801.6 730.2 L803.1 726.6 L804.7 722.9 L806.3 719.0 L807.8 715.3 L809.2 711.6 L810.5 708.0 L811.8 704.5 L813.1 700.9 L814.4 697.4 L815.7 693.7 L816.9 690.1 L818.1 686.5 L819.2 683.0 L820.3 679.5 L821.3 675.9 L822.3 672.4 L823.4 668.8 L824.5 665.1 L825.7 661.4 L827.0 657.7 L828.5 654.0 L830.0 650.3 L831.5 646.8 L833.1 643.4 L834.8 640.0 L836.6 636.6 L838.4 633.1 L840.3 629.6 L842.3 626.0 L844.2 622.5 L846.2 618.9 L848.2 615.4 L850.2 611.8 L852.1 608.3 L854.0 604.7 L855.9 601.2 L857.8 597.6 L859.7 593.9 L861.6 590.2 L863.5 586.5 L865.4 582.8 L867.3 579.1 L869.2 575.4 L871.1 571.9 L872.9 568.4 L874.8 565.1 L876.6 561.9 L878.4 558.7 L880.4 555.5 L882.6 552.2 L885.0 548.8 L887.4 545.7 L889.7 542.9 L892.0 540.2 L894.3 537.6 L896.6 535.0 L898.9 532.2 L901.3 529.3 L903.8 526.3 L906.3 523.2 L908.8 520.1 L911.2 517.0 L913.8 514.0 L916.3 511.1 L918.8 508.3 L921.5 505.6 L924.3 503.0 L927.1 500.4 L930.0 498.0 L932.9 495.7 L935.7 493.4 L938.6 491.1 L941.5 488.7 L944.5 486.3 L947.5 483.9 L950.5 481.6 L953.6 479.3 L956.7 477.2 L960.0 475.1 L963.3 473.2 L966.7 471.4 L970.2 469.7 L973.8 468.1 L977.5 466.6 L981.2 465.3 L985.0 464.1 L988.7 463.0 L992.6 462.1 L996.4 461.2 L1000.4 460.6 L1004.3 460.1 L1008.2 459.9 L1012.1 460.1 L1015.8 460.6 L1019.6 461.4 L1023.3 462.6 L1026.9 464.0 L1030.5 465.7 L1034.1 467.6 L1037.5 469.7 L1040.8 472.0 L1043.8 474.5 L1046.7 477.1 L1049.6 480.0 L1052.3 482.9 L1055.0 486.0 L1057.7 489.2 L1060.2 492.3 L1062.7 495.4 L1065.2 498.5 L1067.6 501.5 L1069.9 504.5 L1072.1 507.5 L1074.3 510.5 L1076.4 513.8 L1078.6 517.2 L1080.7 520.8 L1082.6 524.3 L1084.4 527.7 L1086.1 531.0 L1087.8 534.5 L1089.5 538.1 L1091.3 541.8 L1093.0 545.6 L1094.7 549.4 L1096.4 553.2 L1098.0 557.0 L1099.6 560.6 L1101.2 564.2 L1102.8 567.8 L1104.3 571.4 L1105.9 574.9 L1107.3 578.3 L1108.8 581.7 L1110.2 585.1 L1111.6 588.5 L1113.0 592.0 L1114.4 595.6 L1115.8 599.2 L1117.2 602.9 L1118.6 606.6 L1119.9 610.2 L1121.1 613.8 L1122.4 617.5 L1123.7 621.3 L1125.0 625.1 L1126.2 629.0 L1127.5 632.8 L1128.8 636.7 L1130.1 640.5 L1131.3 644.3 L1132.6 648.0 L1133.8 651.6 L1135.1 655.2 L1136.5 659.0 L1137.9 662.7 L1139.2 666.4 L1140.6 670.1 L1142.0 673.6 L1143.4 677.1 L1144.7 680.6 L1146.0 684.1 L1147.4 687.7 L1148.7 691.3 L1149.9 694.9 L1151.2 698.4 L1152.3 701.9 L1153.5 705.4 L1154.6 708.9 L1155.7 712.4 L1156.8 715.9 L1157.9 719.5 L1159.1 723.2 L1160.3 727.0 L1161.5 730.9 L1162.7 734.8 L1163.9 738.6 L1165.0 742.3 L1166.1 745.9 L1167.3 749.5 L1168.4 753.1 L1169.6 756.8 L1170.7 760.6 L1171.9 764.4 L1173.1 768.3 L1174.3 772.2 L1175.5 776.1 L1176.7 779.9 L1177.9 783.8 L1179.1 787.6 L1180.3 791.4 L1181.4 795.2 L1182.6 799.0 L1183.8 802.9 L1185.0 806.9 L1186.3 810.9 L1187.5 814.8 L1188.7 818.8 L1189.9 822.8 L1191.1 826.7 L1192.3 830.6 L1193.5 834.3 L1194.6 838.1 L1195.7 841.7 L1196.9 845.2 L1198.0 848.8 L1199.2 852.4 L1200.4 856.3 L1201.7 860.1 L1203.0 863.9 L1204.2 867.5 L1205.4 871.0 L1206.6 874.4 L1207.8 877.8 L1209.0 881.2 L1210.2 884.7 L1211.4 888.2 L1212.6 891.8 L1213.8 895.4 L1215.0 899.1 L1216.1 902.7 L1217.3 906.4 L1218.5 910.1 L1219.7 913.8 L1220.9 917.5 L1222.0 921.1 L1223.2 924.7 L1224.4 928.3 L1225.7 932.0 L1227.0 935.6 L1228.3 939.3 L1229.6 943.0 L1230.9 946.7 L1232.2 950.3 L1233.5 953.8 L1234.8 957.3 L1236.1 960.8 L1237.4 964.4 L1238.7 967.9 L1240.1 971.6 L1241.4 975.2 L1242.7 978.8 L1244.1 982.3 L1245.4 985.9 L1246.7 989.4 L1248.0 992.8 L1249.4 996.3 L1250.7 999.8 L1252.1 1003.4 L1253.5 1006.9 L1254.8 1010.4 L1256.2 1013.9 L1257.6 1017.4 L1259.1 1020.9 L1260.5 1024.4 L1262.0 1027.9 L1263.5 1031.5 L1265.0 1035.0 L1266.5 1038.5 L1268.0 1042.1 L1269.5 1045.7 L1271.1 1049.3 L1272.7 1052.8 L1274.4 1056.4 L1276.0 1059.9 L1277.6 1063.4 L1279.3 1066.8 L1280.9 1070.1 L1282.6 1073.4 L1284.3 1076.8 L1286.1 1080.3 L1287.9 1084.0 L1289.9 1087.8 L1291.7 1091.5 L1293.5 1095.1 L1295.2 1098.5 L1297.0 1102.0 L1298.7 1105.6 L1300.6 1109.3 L1302.5 1113.1 L1304.4 1117.0 L1306.2 1120.8 L1308.1 1124.5 L1310.0 1128.2 L1311.8 1131.8 L1313.5 1135.2 L1315.3 1138.7 L1317.2 1142.2 L1319.1 1145.9 L1321.1 1149.6 L1322.9 1153.1 L1324.8 1156.5 L1326.6 1159.8 L1328.4 1162.9 L1330.2 1166.0 L1332.1 1169.0 L1334.2 1172.1 L1336.4 1175.3 L1338.6 1178.4 L1341.0 1181.5 L1343.4 1184.6 L1345.8 1187.5 L1348.2 1190.3 L1350.6 1193.1 L1353.0 1195.9 L1355.6 1198.8 L1358.4 1201.8 L1361.3 1204.8 L1364.1 1207.6 L1366.8 1210.3 L1369.6 1212.8 L1372.5 1215.1 L1375.6 1217.4 L1378.8 1219.4 L1381.8 1221.3 L1384.7 1223.1 L1387.4 1224.9 L1390.1 1226.8 L1393.1 1228.7 L1396.4 1230.5 L1399.7 1232.0 L1403.1 1233.3 L1406.6 1234.5 L1410.3 1235.8 L1414.2 1237.1 L1418.2 1238.4 L1422.2 1239.7 L1426.2 1241.0 L1430.0 1242.3 L1433.8 1243.6 L1437.4 1244.9 L1441.0 1246.2 L1444.6 1247.4 L1448.2 1248.7 L1451.7 1249.9 L1455.3 1251.2 L1458.9 1252.5 L1462.4 1253.7 L1466.0 1255.0 L1469.6 1256.3 L1473.1 1257.5 L1476.7 1258.8 L1480.3 1260.1 L1483.8 1261.3 L1487.4 1262.6 L1491.0 1263.8 L1494.6 1265.1 L1498.2 1266.4 L1501.8 1267.6 L1505.5 1268.9 L1509.2 1270.2 L1512.9 1271.4 L1516.6 1272.7 L1520.3 1273.9 L1524.0 1275.2 L1527.7 1276.5 L1531.3 1277.7 L1535.0 1279.0 L1538.6 1280.3 L1542.2 1281.5 L1545.8 1282.8 L1549.3 1284.1 L1552.9 1285.3 L1556.4 1286.6 L1560.0 1287.8 L1563.6 1289.1 L1567.2 1290.4 L1570.8 1291.6 L1574.5 1292.9 L1578.2 1294.2 L1581.9 1295.5 L1585.6 1296.9 L1589.3 1298.1 L1593.0 1299.4 L1596.7 1300.6 L1600.4 1301.8 L1604.1 1303.0 L1607.9 1304.1 L1611.7 1305.3 L1615.6 1306.3 L1619.4 1307.4 L1623.3 1308.4 L1627.0 1309.4 L1630.8 1310.3 L1634.5 1311.2 L1638.2 1312.0 L1642.1 1312.8 L1646.1 1313.6 L1650.0 1314.2 L1653.8 1314.9 L1657.6 1315.5 L1661.3 1316.1 L1665.1 1316.7 L1668.9 1317.4 L1672.6 1318.0 L1676.4 1318.7 L1680.1 1319.4 L1683.8 1320.1 L1687.6 1320.7 L1691.3 1321.4 L1695.0 1322.0 L1698.8 1322.6 L1702.6 1323.2 L1706.5 1323.7 L1710.3 1324.2 L1714.0 1324.8 L1717.7 1325.3 L1721.4 1325.7 L1725.3 1326.1 L1729.2 1326.4 L1733.2 1326.7 L1736.9 1327.0 L1740.3 1327.7 L1743.3 1328.9 L1745.7 1331.0 L1747.6 1333.9 L1749.0 1337.3 L1750.3 1340.9 L1751.9 1344.3 L1754.4 1347.2 L1757.4 1349.5 L1760.4 1351.3 L1762.6 1352.3" stroke="#3a8a8a" stroke-width="4.8"/>
<path d="M348.3 401.3 L350.1 402.1 L352.4 403.5 L354.8 405.7 L356.9 408.4 L359.0 411.4 L361.0 414.6 L363.0 417.7 L365.0 420.9 L367.2 424.0 L369.4 427.0 L371.6 430.0 L373.8 432.8 L375.8 435.6 L377.8 438.4 L379.9 441.3 L382.0 444.4 L384.3 447.4 L386.7 450.6 L389.2 453.9 L391.6 457.2 L393.9 460.4 L396.2 463.5 L398.4 466.6 L400.5 469.7 L402.7 472.7 L405.0 475.6 L407.3 478.3 L409.8 480.8 L412.3 483.3 L414.8 485.8 L417.4 488.4 L419.9 491.1 L422.4 493.9 L424.8 496.7 L427.3 499.6 L429.8 502.6 L432.2 505.7 L434.6 508.8 L436.9 512.0 L439.0 515.2 L441.1 518.4 L443.0 521.7 L445.0 525.0 L446.9 528.4 L448.9 531.8 L450.9 535.2 L453.0 538.4 L455.0 541.6 L457.1 544.8 L459.2 548.0 L461.4 551.2 L463.5 554.5 L465.7 557.9 L467.8 561.3 L469.8 564.8 L471.7 568.1 L473.4 571.5 L475.2 574.9 L476.9 578.3 L478.6 581.8 L480.4 585.4 L482.1 588.9 L483.8 592.4 L485.5 595.9 L487.2 599.4 L489.0 602.9 L490.8 606.4 L492.6 609.9 L494.4 613.4 L496.2 616.9 L498.0 620.3 L499.7 623.7 L501.5 627.2 L503.3 630.6 L505.0 634.1 L506.8 637.6 L508.6 641.1 L510.4 644.6 L512.2 648.1 L513.9 651.6 L515.7 655.1 L517.5 658.7 L519.2 662.3 L520.9 665.8 L522.6 669.3 L524.2 672.8 L525.8 676.2 L527.4 679.6 L529.0 683.1 L530.6 686.6 L532.2 690.3 L533.8 694.1 L535.3 697.9 L536.8 701.7 L538.2 705.3 L539.5 709.0 L540.7 712.7 L541.9 716.4 L543.2 720.3 L544.4 724.2 L545.6 728.1 L546.8 732.0 L548.1 735.9 L549.3 739.6 L550.5 743.2 L551.8 746.8 L553.2 750.4 L554.7 754.1 L556.4 757.9 L558.1 761.5 L559.7 765.1 L561.4 768.4 L563.1 771.7 L564.8 775.0 L566.5 778.2 L568.2 781.5 L570.0 784.9 L571.9 788.4 L573.7 791.9 L575.6 795.3 L577.5 798.7 L579.4 802.1 L581.3 805.4 L583.2 808.7 L585.0 812.0 L586.9 815.3 L588.8 818.6 L590.7 821.9 L592.6 825.1 L594.4 828.3 L596.3 831.5 L598.1 834.7 L600.0 838.1 L601.9 841.4 L603.8 844.9 L605.6 848.3 L607.5 851.8 L609.4 855.4 L611.2 858.9 L613.1 862.4 L614.9 865.9 L616.7 869.4 L618.5 872.8 L620.3 876.2 L622.0 879.6 L623.8 883.0 L625.5 886.4 L627.3 889.9 L629.1 893.3 L630.9 896.8 L632.8 900.3 L634.7 903.8 L636.6 907.3 L638.5 910.8 L640.4 914.3 L642.3 917.6 L644.2 920.9 L646.2 924.3 L648.3 927.7 L650.4 931.2 L652.5 934.5 L654.6 937.7 L656.8 940.8 L659.1 943.7 L661.7 946.7 L664.5 949.6 L667.5 952.3 L670.5 954.7 L673.7 956.9 L677.0 958.9 L680.5 960.5 L684.1 961.8 L687.9 962.4 L691.6 962.5 L695.2 962.2 L698.9 961.4 L702.6 960.4 L706.3 959.2 L710.0 957.9 L713.6 956.6 L717.2 955.2 L720.7 953.6 L724.2 951.9 L727.7 950.1 L731.1 948.3 L734.4 946.5 L737.7 944.6 L741.0 942.6 L744.2 940.5 L747.3 938.1 L750.1 935.6 L752.8 933.0 L755.2 930.2 L757.6 927.2 L760.0 924.2 L762.4 921.3 L764.9 918.4 L767.5 915.7 L770.3 913.0 L773.2 910.4 L776.1 907.9 L779.1 905.3 L782.0 902.7 L784.9 900.0 L787.7 897.2 L790.4 894.4 L793.1 891.6 L795.9 888.7 L798.6 885.8 L801.3 882.9 L804.0 880.0 L806.7 877.3 L809.4 874.5 L812.1 871.8 L814.9 869.2 L817.6 866.5 L820.3 863.7 L822.9 861.0 L825.4 858.3 L827.8 855.7 L830.2 853.0 L832.7 850.3 L835.5 847.4 L838.4 844.4 L841.5 841.6 L844.3 839.0 L847.1 836.5 L849.9 834.1 L852.9 831.6 L855.9 829.0 L859.1 826.3 L862.3 823.7 L865.5 821.1 L868.8 818.5 L872.1 815.9 L875.3 813.5 L878.5 811.1 L881.7 808.8 L885.0 806.5 L888.3 804.3 L891.6 802.0 L894.9 799.9 L898.2 797.8 L901.5 795.7 L904.8 793.8 L908.1 792.0 L911.4 790.2 L914.8 788.6 L918.2 787.0 L921.8 785.5 L925.5 784.1 L929.2 782.8 L933.0 781.7 L936.7 780.7 L940.5 779.7 L944.3 778.9 L948.1 778.2 L952.0 777.6 L955.9 777.1 L959.8 776.6 L963.6 776.2 L967.5 775.9 L971.5 775.7 L975.4 775.6 L979.4 775.5 L983.4 775.6 L987.4 775.7 L991.3 776.1 L995.2 776.5 L999.0 777.1 L1002.9 777.9 L1006.7 778.8 L1010.4 779.9 L1014.2 781.0 L1017.9 782.4 L1021.6 783.8 L1025.2 785.4 L1028.9 787.2 L1032.5 789.0 L1036.0 791.0 L1039.4 792.9 L1042.7 795.0 L1045.9 797.1 L1049.1 799.4 L1052.3 801.7 L1055.5 804.2 L1058.6 806.7 L1061.7 809.2 L1064.8 811.8 L1067.7 814.4 L1070.6 817.0 L1073.4 819.6 L1076.2 822.3 L1079.0 825.1 L1081.7 828.0 L1084.3 830.9 L1086.9 833.9 L1089.3 836.9 L1091.6 840.0 L1093.9 843.1 L1096.2 846.3 L1098.6 849.6 L1100.8 852.8 L1103.0 856.0 L1105.1 859.2 L1107.2 862.4 L1109.3 865.6 L1111.4 868.9 L1113.4 872.3 L1115.5 875.7 L1117.6 879.1 L1119.7 882.6 L1121.8 886.0 L1123.9 889.5 L1125.9 892.9 L1128.0 896.2 L1130.0 899.5 L1132.0 902.7 L1134.0 906.0 L1136.0 909.3 L1138.0 912.7 L1140.0 916.0 L1142.0 919.3 L1144.0 922.7 L1146.0 926.0 L1148.0 929.4 L1150.0 932.7 L1152.0 936.1 L1154.0 939.4 L1156.1 942.8 L1158.1 946.2 L1160.1 949.6 L1162.1 953.0 L1164.1 956.4 L1166.1 959.8 L1168.1 963.2 L1170.1 966.7 L1172.1 970.2 L1174.0 973.7 L1176.0 977.2 L1177.9 980.7 L1179.7 984.2 L1181.5 987.7 L1183.4 991.3 L1185.2 994.9 L1187.0 998.5 L1188.8 1002.1 L1190.6 1005.8 L1192.4 1009.3 L1194.1 1012.8 L1195.9 1016.3 L1197.6 1019.6 L1199.4 1023.0 L1201.3 1026.4 L1203.3 1030.0 L1205.4 1033.6 L1207.5 1037.2 L1209.6 1040.7 L1211.7 1044.1 L1213.8 1047.4 L1215.9 1050.6 L1217.9 1053.8 L1220.0 1056.9 L1222.1 1060.1 L1224.3 1063.2 L1226.5 1066.3 L1228.7 1069.3 L1230.8 1072.2 L1233.0 1075.1 L1235.2 1078.1 L1237.5 1081.2 L1239.6 1084.5 L1241.7 1087.8 L1243.7 1091.0 L1245.5 1094.3 L1247.2 1097.6 L1248.9 1101.0 L1250.6 1104.5 L1252.4 1108.1 L1254.2 1111.7 L1256.2 1115.3 L1258.2 1118.9 L1260.4 1122.5 L1262.7 1126.0 L1265.0 1129.3 L1267.3 1132.4 L1269.7 1135.4 L1272.1 1138.5 L1274.7 1141.6 L1277.3 1144.7 L1280.0 1147.8 L1282.7 1150.9 L1285.5 1153.9 L1288.3 1156.8 L1291.1 1159.7 L1293.8 1162.5 L1296.6 1165.1 L1299.4 1167.7 L1302.4 1170.2 L1305.7 1172.7 L1309.1 1175.2 L1312.7 1177.5 L1316.4 1179.6 L1320.0 1181.7 L1323.6 1183.5 L1327.1 1185.3 L1330.5 1187.0 L1333.8 1188.7 L1337.1 1190.4 L1340.5 1192.3 L1344.1 1194.4 L1347.7 1196.5 L1351.3 1198.6 L1354.6 1200.6 L1357.8 1202.5 L1360.8 1204.4 L1363.7 1206.3 L1366.6 1208.5 L1369.4 1210.8 L1372.1 1213.0 L1374.9 1215.1 L1378.0 1216.8 L1381.3 1218.0 L1384.7 1218.8 L1388.2 1219.2 L1391.9 1219.6 L1395.8 1219.8 L1399.9 1220.1 L1403.9 1220.5 L1408.0 1221.0 L1411.9 1221.7 L1415.7 1222.7 L1419.5 1223.8 L1423.2 1225.2 L1426.9 1226.7 L1430.6 1228.2 L1434.3 1229.9 L1438.0 1231.5 L1441.7 1233.1 L1445.4 1234.5 L1449.1 1235.9 L1452.8 1237.2 L1456.6 1238.4 L1460.4 1239.4 L1464.1 1240.5 L1467.9 1241.5 L1471.6 1242.6 L1475.4 1243.6 L1479.2 1244.8 L1482.9 1246.0 L1486.6 1247.4 L1490.3 1248.8 L1494.0 1250.2 L1497.7 1251.7 L1501.4 1253.2 L1505.1 1254.7 L1508.8 1256.3 L1512.5 1257.8 L1516.2 1259.2 L1519.8 1260.7 L1523.4 1262.1 L1527.0 1263.5 L1530.6 1264.8 L1534.2 1266.2 L1537.7 1267.5 L1541.3 1268.9 L1544.9 1270.2 L1548.4 1271.6 L1552.0 1273.0 L1555.6 1274.4 L1559.1 1275.9 L1562.7 1277.4 L1566.3 1278.8 L1569.8 1280.3 L1573.4 1281.8 L1577.0 1283.3 L1580.6 1284.8 L1584.2 1286.3 L1587.9 1287.8 L1591.7 1289.3 L1595.6 1290.8 L1599.5 1292.4 L1603.4 1293.9 L1607.2 1295.4 L1611.0 1296.9 L1614.5 1298.3 L1618.0 1299.8 L1621.5 1301.3 L1625.0 1303.0 L1628.5 1304.7 L1631.7 1306.3 L1634.9 1307.8 L1638.2 1309.2 L1641.7 1310.4 L1645.4 1311.4 L1649.1 1312.3 L1653.0 1313.2 L1657.0 1314.0 L1661.0 1314.8 L1664.9 1315.6 L1668.8 1316.4 L1672.5 1317.2 L1676.3 1318.0 L1680.0 1318.9 L1683.8 1319.7 L1687.5 1320.5 L1691.3 1321.2 L1695.0 1322.0 L1698.8 1322.7 L1702.6 1323.4 L1706.4 1324.2 L1710.2 1324.8 L1714.0 1325.5 L1717.7 1326.1 L1721.5 1326.7 L1725.4 1327.1 L1729.6 1327.4 L1733.7 1327.7 L1737.7 1328.0 L1741.2 1328.7 L1744.2 1330.0 L1746.3 1332.1 L1747.7 1335.2 L1748.4 1338.8 L1749.0 1342.6 L1750.0 1346.0 L1751.8 1348.9 L1754.4 1351.2 L1757.8 1352.9 L1761.5 1354.2 L1765.2 1355.1 L1768.9 1355.8 L1772.5 1356.3 L1776.3 1356.7 L1780.2 1357.1 L1784.2 1357.4 L1788.1 1357.7 L1792.0 1358.0 L1795.9 1358.2 L1799.7 1358.4 L1803.6 1358.5 L1807.4 1358.6 L1811.3 1358.7 L1815.1 1358.9 L1818.9 1359.0 L1822.7 1359.3 L1826.4 1359.5 L1830.1 1359.8 L1833.9 1360.1 L1837.6 1360.4 L1841.4 1360.6 L1845.1 1360.9 L1848.8 1361.1 L1852.4 1361.3 L1855.9 1361.4 L1859.4 1361.6 L1863.1 1361.7 L1866.8 1361.8 L1870.8 1361.9 L1874.7 1362.0 L1878.6 1362.0 L1882.5 1362.1 L1886.6 1362.1 L1890.7 1362.1 L1894.9 1362.1 L1899.2 1362.0 L1903.3 1362.0 L1907.4 1362.0 L1911.4 1362.0 L1915.4 1362.0 L1919.6 1361.9 L1923.8 1361.8 L1928.0 1361.7 L1932.0 1361.7 L1935.7 1361.6 L1939.2 1361.8 L1942.4 1362.2 L1945.2 1363.0 L1947.7 1364.3 L1950.4 1365.7 L1953.8 1367.0 L1957.6 1367.8 L1961.3 1368.2 L1964.9 1368.4 L1968.6 1368.5 L1972.7 1368.6 L1977.0 1368.7 L1981.5 1368.8 L1986.2 1368.8 L1990.9 1368.9 L1995.5 1368.8 L2000.1 1368.8 L2004.5 1368.7 L2008.7 1368.6 L2012.6 1368.5 L2016.4 1368.3 L2020.2 1367.8 L2024.4 1367.1 L2028.7 1365.8 L2032.5 1364.3 L2035.6 1362.7 L2038.3 1361.5 L2040.9 1360.9 L2043.5 1361.3 L2046.1 1362.8 L2048.7 1365.0 L2051.6 1367.3 L2054.7 1369.3 L2057.9 1370.8 L2061.2 1371.9 L2064.6 1372.8 L2068.4 1373.6 L2072.4 1374.3 L2076.6 1374.9 L2081.0 1375.5 L2085.2 1375.9 L2089.1 1376.1 L2092.8 1376.2 L2096.5 1376.3 L2100.3 1376.2 L2104.2 1376.2 L2108.2 1376.1 L2112.3 1376.0 L2116.4 1375.9 L2120.6 1375.9 L2124.7 1375.8 L2128.8 1375.8 L2132.9 1375.9 L2136.7 1376.1 L2140.3 1376.3 L2143.5 1376.6 L2146.4 1376.9 L2149.1 1377.3 L2151.8 1377.7 L2154.5 1378.1 L2157.5 1378.6 L2160.7 1379.0 L2164.4 1379.4 L2168.7 1379.8 L2173.6 1380.2 L2179.1 1380.5 L2184.5 1380.8 L2189.3 1381.0 L2193.1 1381.1 L2196.5 1381.2 L2199.8 1381.2 L2203.3 1381.3 L2207.0 1381.4 L2210.8 1381.4 L2214.8 1381.5 L2218.9 1381.5 L2223.1 1381.5 L2227.5 1381.6 L2232.0 1381.6 L2236.5 1381.6 L2241.2 1381.7 L2245.8 1381.7 L2250.6 1381.7 L2255.3 1381.8 L2260.1 1381.8 L2264.9 1381.8 L2269.7 1381.8 L2274.5 1381.8 L2279.3 1381.8 L2284.0 1381.9 L2288.6 1381.9 L2293.2 1381.9 L2297.7 1381.9 L2302.1 1381.9 L2306.4 1381.9 L2310.6 1381.9 L2314.6 1381.9 L2318.5 1381.9 L2322.2 1381.9 L2325.8 1381.9 L2329.2 1381.9 L2332.3 1382.0 L2335.3 1382.0 L2338.0 1382.0 L2340.4 1382.0 L2342.3 1382.0 L2342.9 1382.0" stroke="#37378c" stroke-width="4.8"/>
<path d="M346.8 709.0 L348.1 710.6 L349.9 712.9 L352.3 715.8 L354.8 718.9 L357.5 722.0 L360.1 725.0 L362.8 727.8 L365.5 730.5 L368.3 733.1 L371.1 735.6 L374.1 737.9 L377.1 740.2 L380.2 742.3 L383.4 744.3 L386.7 746.2 L390.1 747.9 L393.7 749.6 L397.4 751.1 L401.0 752.3 L404.6 753.1 L408.1 753.1 L411.4 752.2 L414.7 750.7 L418.0 749.3 L421.4 748.5 L424.9 748.3 L428.6 748.6 L432.3 749.1 L436.2 749.8 L440.0 750.6 L443.6 751.4 L447.2 752.2 L450.8 753.2 L454.3 754.2 L457.9 755.3 L461.4 756.6 L464.9 758.1 L468.2 759.7 L471.6 761.5 L474.9 763.4 L478.1 765.4 L481.4 767.6 L484.7 769.8 L488.0 772.0 L491.2 774.4 L494.5 776.8 L497.8 779.3 L501.0 781.9 L504.1 784.3 L507.1 786.8 L509.9 789.1 L512.7 791.6 L515.3 794.0 L517.6 796.4 L519.9 798.8 L522.2 801.1 L524.5 803.5 L527.0 806.2 L529.7 809.2 L532.3 812.3 L534.7 815.4 L537.0 818.3 L539.2 821.3 L541.5 824.5 L543.9 827.8 L546.3 831.2 L548.7 834.7 L551.2 838.1 L553.6 841.6 L555.9 844.9 L558.3 848.3 L560.6 851.7 L562.9 855.1 L565.3 858.6 L567.6 862.1 L569.9 865.5 L572.1 868.8 L574.3 872.0 L576.3 875.0 L578.4 878.1 L580.6 881.5 L582.9 885.0 L585.1 888.3 L587.2 891.2 L589.3 893.8 L591.9 896.4 L594.8 898.8 L597.8 901.0 L601.0 903.0 L604.3 905.0 L607.6 907.0 L611.0 908.9 L614.4 910.7 L617.9 912.4 L621.3 914.0 L624.8 915.7 L628.3 917.2 L631.9 918.7 L635.5 920.1 L639.0 921.4 L642.6 922.8 L646.1 924.3 L649.6 925.9 L653.0 927.5 L656.5 928.8 L659.8 929.2 L663.1 928.8 L666.4 927.6 L669.7 925.8 L672.9 923.5 L675.9 921.0 L678.6 918.6 L681.2 916.0 L683.9 913.2 L686.6 910.2 L689.3 907.0 L692.1 903.6 L694.6 900.4 L697.0 897.3 L699.3 894.3 L701.5 891.2 L703.7 888.1 L705.9 884.9 L708.2 881.6 L710.4 878.2 L712.6 874.7 L714.8 871.3 L716.9 867.8 L718.9 864.4 L720.7 861.0 L722.6 857.5 L724.4 854.0 L726.2 850.5 L727.9 846.9 L729.7 843.3 L731.4 839.7 L733.1 836.2 L734.7 832.7 L736.4 829.3 L738.1 825.9 L739.8 822.5 L741.5 819.2 L743.1 816.1 L744.8 812.9 L746.4 809.8 L748.0 806.6 L749.7 803.3 L751.4 799.8 L753.1 796.1 L754.7 792.5 L756.3 789.1 L757.7 785.8 L759.1 782.5 L760.5 779.1 L762.0 775.6 L763.5 772.0 L764.9 768.3 L766.4 764.6 L768.0 760.8 L769.5 757.0 L771.0 753.2 L772.5 749.4 L774.0 745.6 L775.5 741.8 L777.0 738.1 L778.4 734.4 L779.8 730.7 L781.3 726.9 L782.7 723.1 L784.2 719.2 L785.6 715.3 L787.1 711.4 L788.5 707.5 L790.0 703.7 L791.4 699.9 L792.8 696.3 L794.1 692.7 L795.4 689.3 L796.7 686.0 L797.9 682.7 L799.3 679.2 L800.9 675.5 L802.5 671.8 L804.0 668.4 L805.5 665.3 L806.9 662.3 L808.3 659.2 L809.7 655.8 L811.1 652.3 L812.4 648.7 L813.6 645.2 L814.8 641.8 L815.9 638.3 L817.1 634.6 L818.3 630.9 L819.5 627.0 L820.7 623.1 L821.9 619.2 L823.1 615.2 L824.3 611.3 L825.5 607.5 L826.8 603.7 L828.0 600.0 L829.2 596.3 L830.4 592.7 L831.6 589.2 L832.7 585.8 L833.9 582.4 L835.1 578.9 L836.3 575.4 L837.6 571.8 L839.0 568.0 L840.5 564.0 L842.2 559.9 L843.9 555.7 L845.5 551.9 L847.0 548.4 L848.4 545.0 L849.9 541.6 L851.4 538.1 L853.0 534.4 L854.7 530.7 L856.4 526.9 L858.1 523.0 L859.9 519.1 L861.6 515.2 L863.4 511.3 L865.2 507.3 L867.1 503.5 L868.9 499.6 L870.6 495.8 L872.4 492.2 L874.2 488.6 L875.9 485.1 L877.6 481.7 L879.3 478.3 L881.2 474.7 L883.2 470.9 L885.3 467.1 L887.4 463.4 L889.4 459.7 L891.4 456.2 L893.4 452.9 L895.4 449.6 L897.4 446.4 L899.4 443.2 L901.4 440.2 L903.5 437.2 L905.6 434.2 L907.7 431.3 L910.0 428.3 L912.5 425.2 L915.3 422.1 L918.2 418.8 L921.2 415.7 L924.2 412.5 L927.4 409.5 L930.5 406.6 L933.5 403.8 L936.5 401.1 L939.3 398.6 L942.0 396.2 L944.6 393.9 L947.3 391.6 L950.0 389.2 L952.7 386.9 L955.2 385.0 L957.8 383.4 L960.8 382.0 L964.1 380.5 L967.5 379.0 L971.0 377.5 L974.7 375.9 L978.6 374.2 L982.7 372.5 L986.8 370.9 L991.0 369.5 L995.0 368.2 L998.9 367.3 L1002.6 366.6 L1006.4 366.4 L1010.2 366.6 L1014.0 367.4 L1017.7 368.7 L1021.1 370.4 L1024.5 372.3 L1027.7 374.5 L1030.8 376.7 L1033.9 379.0 L1036.9 381.3 L1039.8 383.7 L1042.6 386.2 L1045.3 388.8 L1048.0 391.6 L1050.6 394.5 L1053.1 397.4 L1055.6 400.4 L1058.0 403.3 L1060.3 406.2 L1062.4 409.1 L1064.6 412.0 L1066.7 415.0 L1068.7 418.1 L1070.8 421.3 L1072.8 424.7 L1074.9 428.2 L1076.8 431.7 L1078.5 435.1 L1080.2 438.4 L1081.8 441.8 L1083.5 445.3 L1085.1 448.9 L1086.7 452.6 L1088.3 456.3 L1089.9 460.1 L1091.5 463.9 L1093.1 467.7 L1094.7 471.4 L1096.2 475.1 L1097.8 478.8 L1099.3 482.5 L1100.8 486.2 L1102.3 489.8 L1103.7 493.5 L1105.2 497.2 L1106.7 500.9 L1108.1 504.6 L1109.5 508.3 L1110.9 512.0 L1112.3 515.7 L1113.7 519.4 L1115.0 523.1 L1116.3 526.8 L1117.6 530.5 L1118.9 534.2 L1120.1 538.0 L1121.3 541.7 L1122.5 545.4 L1123.7 549.1 L1124.9 552.8 L1126.1 556.6 L1127.4 560.4 L1128.7 564.1 L1130.0 567.9 L1131.3 571.7 L1132.7 575.4 L1134.1 579.2 L1135.6 583.0 L1137.1 586.9 L1138.6 590.7 L1140.0 594.6 L1141.5 598.4 L1142.9 602.1 L1144.3 605.7 L1145.6 609.3 L1146.9 612.8 L1148.1 616.5 L1149.4 620.4 L1150.7 624.4 L1151.9 628.4 L1153.0 632.2 L1154.1 635.9 L1155.1 639.4 L1156.1 643.0 L1157.0 646.5 L1158.0 650.1 L1159.0 653.7 L1160.0 657.2 L1160.9 660.7 L1161.8 664.1 L1162.7 667.7 L1163.7 671.4 L1164.8 675.4 L1165.8 679.4 L1166.9 683.1 L1167.8 686.6 L1168.8 690.1 L1169.8 693.7 L1170.9 697.4 L1172.0 701.2 L1173.1 705.2 L1174.2 709.2 L1175.4 713.3 L1176.5 717.4 L1177.7 721.6 L1178.8 725.7 L1179.9 729.6 L1180.9 733.4 L1181.9 737.0 L1182.9 740.6 L1183.9 744.3 L1184.9 748.0 L1185.9 751.7 L1186.9 755.5 L1187.9 759.3 L1189.0 763.1 L1190.0 766.9 L1191.0 770.8 L1192.0 774.6 L1193.0 778.5 L1194.0 782.3 L1195.0 786.2 L1196.0 790.0 L1197.0 793.9 L1197.9 797.8 L1198.9 801.7 L1199.9 805.6 L1200.9 809.6 L1201.8 813.6 L1202.8 817.6 L1203.7 821.5 L1204.7 825.5 L1205.6 829.4 L1206.6 833.3 L1207.5 837.2 L1208.4 841.0 L1209.3 844.7 L1210.2 848.5 L1211.1 852.2 L1212.0 856.1 L1212.9 860.1 L1213.8 864.0 L1214.7 867.9 L1215.6 871.7 L1216.5 875.4 L1217.3 879.1 L1218.2 882.8 L1219.0 886.5 L1219.9 890.1 L1220.8 893.8 L1221.7 897.5 L1222.6 901.2 L1223.5 905.0 L1224.5 908.9 L1225.4 912.7 L1226.4 916.6 L1227.4 920.5 L1228.4 924.4 L1229.4 928.3 L1230.4 932.2 L1231.4 936.0 L1232.4 939.8 L1233.4 943.6 L1234.5 947.4 L1235.5 951.2 L1236.6 955.0 L1237.7 958.8 L1238.8 962.8 L1239.9 966.7 L1241.1 970.6 L1242.2 974.5 L1243.3 978.3 L1244.5 982.0 L1245.6 985.7 L1246.7 989.2 L1247.9 992.6 L1249.0 996.0 L1250.2 999.5 L1251.6 1003.2 L1253.1 1006.9 L1254.5 1010.4 L1256.0 1013.7 L1257.5 1016.9 L1258.9 1020.2 L1260.4 1023.5 L1262.0 1027.0 L1263.5 1030.5 L1265.0 1034.1 L1266.5 1037.7 L1268.0 1041.4 L1269.5 1045.1 L1271.1 1048.9 L1272.7 1052.6 L1274.4 1056.3 L1276.0 1059.9 L1277.6 1063.4 L1279.3 1066.8 L1280.9 1070.1 L1282.6 1073.5 L1284.3 1076.8 L1286.1 1080.3 L1287.9 1084.0 L1289.9 1087.8 L1291.7 1091.5 L1293.5 1095.1 L1295.2 1098.5 L1297.0 1102.0 L1298.7 1105.6 L1300.6 1109.3 L1302.5 1113.1 L1304.4 1116.9 L1306.2 1120.7 L1308.1 1124.5 L1310.0 1128.1 L1311.8 1131.7 L1313.5 1135.2 L1315.3 1138.6 L1317.2 1142.3 L1319.1 1146.0 L1321.1 1149.8 L1322.9 1153.4 L1324.8 1156.9 L1326.6 1160.3 L1328.4 1163.6 L1330.2 1166.7 L1332.1 1169.9 L1334.1 1173.1 L1336.3 1176.4 L1338.5 1179.6 L1340.7 1182.8 L1343.0 1185.9 L1345.3 1188.9 L1347.7 1191.9 L1350.2 1194.8 L1352.8 1197.6 L1355.6 1200.3 L1358.6 1202.9 L1361.7 1205.5 L1365.0 1208.0 L1368.3 1210.4 L1371.5 1212.9 L1374.5 1215.3 L1377.4 1217.8 L1380.0 1220.5 L1382.5 1223.6 L1384.7 1226.9 L1386.7 1230.3 L1388.5 1233.6 L1390.3 1236.9 L1392.2 1240.1 L1394.3 1243.3 L1396.6 1246.3 L1399.1 1249.3 L1401.8 1252.0 L1404.8 1254.5 L1407.9 1256.6 L1411.1 1258.4 L1414.4 1260.0 L1417.9 1261.6 L1421.6 1263.3 L1425.3 1265.1 L1428.9 1267.0 L1432.3 1268.9 L1435.5 1270.9 L1438.6 1273.0 L1441.7 1275.2 L1444.9 1277.4 L1448.1 1279.7 L1451.3 1281.9 L1454.6 1284.0 L1457.8 1286.1 L1461.2 1288.0 L1464.7 1289.8 L1468.4 1291.5 L1472.2 1293.2 L1475.9 1294.8 L1479.6 1296.2 L1483.3 1297.6 L1486.9 1299.0 L1490.5 1300.5 L1494.3 1302.0 L1498.2 1303.7 L1502.2 1305.3 L1505.9 1306.9 L1509.5 1308.2 L1513.0 1309.0 L1516.3 1309.0 L1519.6 1308.1 L1522.8 1306.6 L1526.0 1305.3 L1529.4 1304.9 L1532.8 1305.3 L1536.3 1306.4 L1540.0 1307.8 L1543.9 1309.4 L1547.8 1311.2 L1551.6 1312.8 L1555.2 1314.5 L1558.7 1316.1 L1562.2 1317.8 L1565.8 1319.6 L1569.4 1321.3 L1573.0 1323.0 L1576.6 1324.7 L1580.3 1326.2 L1583.9 1327.6 L1587.6 1329.0 L1591.4 1330.2 L1595.1 1331.3 L1598.9 1332.4 L1602.6 1333.5 L1606.4 1334.5 L1610.1 1335.5 L1613.9 1336.5 L1617.6 1337.5 L1621.4 1338.4 L1625.1 1339.4 L1628.9 1340.3 L1632.6 1341.1 L1636.4 1341.9 L1640.1 1342.6 L1643.9 1343.2 L1647.6 1343.8 L1651.4 1344.3 L1655.1 1344.7 L1658.9 1345.0 L1662.6 1345.3 L1666.4 1345.6 L1670.1 1345.9 L1673.8 1346.1 L1677.4 1346.3 L1680.9 1346.4 L1684.5 1346.5 L1688.1 1346.6 L1691.8 1346.7 L1695.7 1346.8 L1699.7 1346.9 L1703.7 1347.0 L1707.6 1347.1 L1711.7 1347.2 L1715.9 1347.3 L1720.2 1347.4 L1724.6 1347.5 L1728.8 1347.6 L1733.0 1347.8 L1736.8 1348.1 L1740.4 1348.5 L1743.9 1349.3 L1747.4 1350.7 L1750.6 1352.7 L1753.3 1355.1 L1755.9 1357.4 L1758.9 1359.2 L1762.3 1360.4 L1766.0 1361.3 L1770.0 1361.9 L1773.9 1362.5 L1777.8 1362.9 L1781.6 1363.3 L1785.4 1363.6 L1789.1 1363.8 L1792.8 1363.9 L1796.5 1363.9 L1800.1 1363.9 L1803.8 1363.9 L1807.4 1363.7 L1811.1 1363.5 L1814.8 1363.3 L1818.6 1363.0 L1822.3 1362.8 L1825.9 1362.5 L1829.6 1362.2 L1833.5 1361.9 L1837.3 1361.6 L1841.2 1361.3 L1845.2 1361.1 L1849.3 1361.0 L1853.7 1360.9 L1858.1 1360.9 L1862.5 1360.9 L1866.7 1360.9 L1870.2 1361.0 L1872.8 1361.0 L1873.6 1361.0" stroke="#7a4242" stroke-width="4.8"/>
<path d="M348.3 401.3 L350.1 402.1 L352.4 403.5 L354.8 405.7 L356.9 408.4 L359.0 411.4 L361.0 414.6 L363.0 417.7 L365.0 420.9 L367.2 424.0 L369.4 427.0 L371.6 430.0 L373.8 432.8 L375.8 435.6 L377.8 438.4 L379.9 441.3 L382.0 444.4 L384.3 447.4 L386.7 450.6 L389.2 453.9 L391.6 457.2 L393.9 460.4 L396.2 463.5 L398.4 466.6 L400.5 469.7 L402.7 472.7 L405.0 475.6 L407.3 478.3 L409.8 480.8 L412.3 483.3 L414.8 485.8 L417.4 488.4 L419.9 491.1 L422.4 493.9 L424.8 496.7 L427.3 499.6 L429.8 502.6 L432.2 505.7 L434.6 508.8 L436.9 512.0 L439.0 515.2 L441.1 518.4 L443.0 521.7 L445.0 525.0 L446.9 528.4 L448.9 531.8 L450.9 535.2 L453.0 538.4 L455.0 541.6 L457.1 544.8 L459.2 548.0 L461.4 551.2 L463.5 554.5 L465.7 557.9 L467.8 561.3 L469.8 564.8 L471.7 568.1 L473.4 571.5 L475.2 574.9 L476.9 578.3 L478.6 581.8 L480.4 585.4 L482.1 588.9 L483.8 592.4 L485.5 595.9 L487.2 599.4 L489.0 602.9 L490.8 606.4 L492.6 609.9 L494.4 613.4 L496.2 616.9 L498.0 620.3 L499.7 623.7 L501.5 627.2 L503.3 630.6 L505.0 634.1 L506.8 637.6 L508.6 641.1 L510.4 644.6 L512.2 648.1 L513.9 651.6 L515.7 655.1 L517.5 658.7 L519.2 662.3 L520.9 665.8 L522.6 669.3 L524.2 672.8 L525.8 676.2 L527.4 679.6 L529.0 683.1 L530.6 686.6 L532.2 690.3 L533.8 694.1 L535.3 697.9 L536.8 701.7 L538.2 705.3 L539.5 709.0 L540.7 712.7 L541.9 716.4 L543.2 720.3 L544.4 724.2 L545.6 728.1 L546.8 732.0 L548.1 735.9 L549.3 739.6 L550.5 743.2 L551.8 746.8 L553.2 750.4 L554.7 754.1 L556.4 757.9 L558.1 761.5 L559.7 765.1 L561.4 768.4 L563.1 771.7 L564.8 775.0 L566.5 778.2 L568.2 781.5 L570.0 784.9 L571.9 788.4 L573.7 791.9 L575.6 795.3 L577.5 798.7 L579.4 802.1 L581.3 805.4 L583.2 808.7 L585.0 812.0 L586.9 815.3 L588.8 818.6 L590.7 821.9 L592.6 825.1 L594.4 828.3 L596.3 831.5 L598.1 834.7 L600.0 838.1 L601.9 841.4 L603.8 844.9 L605.6 848.3 L607.5 851.8 L609.4 855.4 L611.2 858.9 L613.1 862.4 L614.9 865.9 L616.7 869.4 L618.5 872.8 L620.3 876.3 L622.0 879.7 L623.8 883.1 L625.5 886.6 L627.3 890.0 L629.2 893.4 L631.1 896.9 L633.1 900.6 L635.1 904.4 L637.2 908.1 L639.3 911.8 L641.3 915.1 L643.4 918.2 L645.6 920.9 L648.4 923.1 L651.6 924.5 L655.0 924.8 L658.5 924.3 L662.0 923.3 L665.6 921.8 L669.2 920.0 L672.7 918.1 L676.1 916.0 L679.3 913.8 L682.5 911.5 L685.5 909.0 L688.4 906.3 L690.9 903.6 L693.1 900.7 L695.2 897.6 L697.1 894.5 L699.0 891.2 L701.0 887.9 L702.9 884.6 L704.8 881.4 L706.7 878.3 L708.7 875.0 L710.7 871.6 L712.7 868.0 L714.7 864.3 L716.6 860.8 L718.3 857.4 L719.9 854.1 L721.6 850.6 L723.2 847.1 L724.9 843.5 L726.6 839.8 L728.3 836.2 L730.0 832.6 L731.6 829.1 L733.3 825.6 L734.9 822.1 L736.6 818.7 L738.2 815.4 L739.8 812.1 L741.3 808.9 L742.9 805.6 L744.5 802.1 L746.2 798.3 L747.9 794.5 L749.5 790.8 L750.9 787.3 L752.3 783.9 L753.7 780.5 L755.1 776.9 L756.6 773.2 L758.1 769.5 L759.6 765.6 L761.1 761.7 L762.6 757.8 L764.1 753.8 L765.6 749.8 L767.1 745.9 L768.5 742.0 L769.9 738.1 L771.3 734.4 L772.6 730.7 L773.9 727.0 L775.3 723.4 L776.6 719.6 L777.9 715.9 L779.2 712.2 L780.4 708.4 L781.7 704.7 L783.0 700.9 L784.3 697.1 L785.6 693.3 L786.8 689.5 L788.1 685.7 L789.4 681.9 L790.6 678.2 L791.8 674.5 L793.0 670.8 L794.1 667.1 L795.3 663.5 L796.4 659.8 L797.6 656.1 L798.7 652.4 L799.9 648.7 L801.1 645.0 L802.2 641.2 L803.4 637.4 L804.6 633.6 L805.8 629.8 L807.1 625.9 L808.3 622.1 L809.6 618.3 L810.8 614.7 L811.9 611.1 L813.1 607.5 L814.3 603.9 L815.5 600.3 L816.7 596.7 L818.0 593.0 L819.2 589.3 L820.5 585.6 L821.7 581.9 L823.0 578.1 L824.3 574.3 L825.7 570.5 L827.0 566.7 L828.4 562.8 L829.8 558.9 L831.2 555.1 L832.6 551.3 L834.0 547.6 L835.4 543.9 L836.9 540.1 L838.4 536.2 L839.9 532.3 L841.4 528.3 L843.0 524.3 L844.5 520.3 L846.1 516.3 L847.7 512.3 L849.3 508.4 L850.8 504.5 L852.4 500.7 L853.9 497.0 L855.3 493.3 L856.8 489.8 L858.1 486.4 L859.5 483.1 L860.9 479.7 L862.4 476.1 L864.1 472.0 L865.9 467.7 L867.7 463.6 L869.4 459.8 L870.9 456.3 L872.5 452.9 L874.0 449.7 L875.4 446.6 L876.9 443.4 L878.5 440.2 L880.1 436.9 L881.7 433.4 L883.3 430.0 L884.9 426.7 L886.5 423.4 L888.1 420.1 L889.8 416.8 L891.6 413.4 L893.6 409.8 L895.6 406.1 L897.7 402.5 L899.7 399.2 L901.6 396.0 L903.5 392.7 L905.5 389.4 L907.5 385.9 L909.6 382.4 L911.8 378.9 L914.0 375.3 L916.3 371.8 L918.5 368.3 L920.8 364.8 L923.1 361.5 L925.4 358.3 L927.7 355.3 L930.1 352.3 L932.6 349.2 L935.3 346.2 L938.0 343.1 L940.9 340.2 L943.7 337.4 L946.5 334.8 L949.4 332.3 L952.3 330.0 L955.3 327.8 L958.3 325.7 L961.4 323.7 L964.6 321.9 L968.0 320.2 L971.7 318.6 L975.5 317.2 L979.6 315.9 L983.6 314.8 L987.7 313.8 L991.7 313.0 L995.7 312.3 L999.4 311.8 L1003.1 311.4 L1006.7 311.2 L1010.5 311.2 L1014.2 311.4 L1017.8 311.9 L1021.2 312.9 L1024.4 314.3 L1027.5 316.0 L1030.6 317.9 L1033.6 319.9 L1036.4 322.1 L1039.2 324.4 L1042.0 327.0 L1044.9 329.7 L1047.7 332.5 L1050.4 335.4 L1053.1 338.4 L1055.6 341.4 L1058.0 344.4 L1060.2 347.4 L1062.4 350.3 L1064.4 353.3 L1066.4 356.4 L1068.3 359.6 L1070.2 362.9 L1072.1 366.4 L1074.0 370.1 L1075.9 373.8 L1077.6 377.4 L1079.1 380.8 L1080.6 384.2 L1082.1 387.7 L1083.6 391.3 L1085.1 395.1 L1086.6 398.9 L1088.0 402.7 L1089.5 406.5 L1090.9 410.4 L1092.3 414.2 L1093.7 418.0 L1095.1 421.7 L1096.4 425.3 L1097.7 429.1 L1099.1 432.8 L1100.4 436.6 L1101.7 440.3 L1103.0 444.0 L1104.2 447.7 L1105.4 451.3 L1106.6 455.0 L1107.8 458.7 L1109.0 462.4 L1110.2 466.2 L1111.4 470.0 L1112.5 473.7 L1113.7 477.4 L1114.8 481.0 L1115.9 484.7 L1117.0 488.4 L1118.1 492.1 L1119.2 495.8 L1120.3 499.6 L1121.4 503.4 L1122.6 507.3 L1123.7 511.2 L1124.8 515.1 L1125.9 519.0 L1126.9 522.9 L1128.0 526.7 L1129.0 530.4 L1130.0 534.3 L1131.1 538.1 L1132.1 542.0 L1133.1 546.0 L1134.1 549.9 L1135.1 553.8 L1136.1 557.7 L1137.1 561.6 L1138.1 565.5 L1139.1 569.2 L1140.1 572.9 L1141.1 576.6 L1142.1 580.3 L1143.2 584.2 L1144.4 588.2 L1145.5 592.2 L1146.7 596.1 L1147.8 599.9 L1149.0 603.6 L1150.1 607.3 L1151.2 610.9 L1152.2 614.5 L1153.2 618.0 L1154.1 621.6 L1155.0 625.2 L1155.8 628.9 L1156.6 632.5 L1157.2 636.1 L1157.8 639.5 L1158.4 642.9 L1159.0 646.5 L1159.6 650.2 L1160.3 654.1 L1161.1 658.3 L1161.9 662.3 L1162.7 666.0 L1163.5 669.5 L1164.2 673.0 L1165.1 676.6 L1165.9 680.3 L1166.8 684.1 L1167.7 688.0 L1168.7 692.0 L1169.6 696.0 L1170.6 700.0 L1171.6 704.1 L1172.6 708.1 L1173.5 712.2 L1174.5 716.2 L1175.5 720.1 L1176.5 724.0 L1177.5 727.9 L1178.5 731.7 L1179.5 735.5 L1180.5 739.4 L1181.5 743.2 L1182.6 747.0 L1183.6 750.8 L1184.7 754.6 L1185.7 758.5 L1186.8 762.3 L1187.8 766.1 L1188.9 769.9 L1189.9 773.7 L1190.9 777.5 L1192.0 781.4 L1193.0 785.2 L1194.0 789.0 L1195.0 792.9 L1196.0 796.7 L1197.0 800.6 L1198.0 804.5 L1199.0 808.5 L1200.1 812.4 L1201.1 816.3 L1202.1 820.3 L1203.0 824.2 L1204.0 828.0 L1205.0 831.9 L1205.9 835.6 L1206.9 839.4 L1207.8 843.1 L1208.7 846.7 L1209.6 850.4 L1210.5 854.2 L1211.5 858.2 L1212.4 862.1 L1213.3 866.1 L1214.2 869.9 L1215.1 873.7 L1216.0 877.4 L1216.8 881.1 L1217.7 884.8 L1218.5 888.4 L1219.4 892.0 L1220.2 895.7 L1221.1 899.4 L1222.0 903.1 L1223.0 906.9 L1223.9 910.7 L1224.9 914.5 L1225.9 918.3 L1226.9 922.1 L1227.9 925.9 L1228.9 929.7 L1229.9 933.5 L1230.9 937.2 L1231.9 940.9 L1232.9 944.6 L1234.0 948.3 L1235.0 952.1 L1236.1 955.9 L1237.2 959.7 L1238.3 963.6 L1239.5 967.6 L1240.6 971.5 L1241.8 975.3 L1242.9 979.1 L1244.1 982.8 L1245.2 986.4 L1246.3 989.9 L1247.4 993.3 L1248.6 996.7 L1249.9 1000.4 L1251.4 1004.1 L1252.8 1007.7 L1254.3 1011.1 L1255.8 1014.4 L1257.3 1017.6 L1258.7 1020.9 L1260.2 1024.2 L1261.7 1027.7 L1263.1 1031.1 L1264.5 1034.6 L1265.9 1038.1 L1267.3 1041.7 L1268.7 1045.2 L1270.2 1048.9 L1271.7 1052.5 L1273.2 1056.1 L1274.7 1059.6 L1276.3 1063.1 L1277.8 1066.5 L1279.3 1069.8 L1280.9 1073.3 L1282.5 1076.7 L1284.3 1080.3 L1286.1 1084.1 L1287.9 1087.9 L1289.8 1091.6 L1291.6 1095.1 L1293.4 1098.5 L1295.2 1101.9 L1297.0 1105.5 L1299.0 1109.1 L1300.9 1112.8 L1302.9 1116.5 L1304.9 1120.2 L1306.9 1123.8 L1308.8 1127.4 L1310.7 1130.9 L1312.5 1134.3 L1314.3 1137.7 L1316.1 1141.3 L1318.0 1145.0 L1319.9 1148.8 L1321.7 1152.4 L1323.4 1155.9 L1325.0 1159.3 L1326.7 1162.6 L1328.4 1165.8 L1330.2 1168.9 L1332.2 1172.1 L1334.2 1175.3 L1336.4 1178.4 L1338.5 1181.5 L1340.8 1184.5 L1343.1 1187.3 L1345.5 1190.1 L1348.1 1192.9 L1350.7 1195.6 L1353.5 1198.2 L1356.6 1200.7 L1359.8 1203.1 L1363.1 1205.5 L1366.5 1207.8 L1369.8 1210.1 L1373.0 1212.4 L1376.0 1214.7 L1378.8 1217.2 L1381.4 1220.1 L1383.8 1223.3 L1385.8 1226.6 L1387.7 1230.0 L1389.4 1233.3 L1391.3 1236.5 L1393.3 1239.7 L1395.5 1242.8 L1397.8 1245.8 L1400.4 1248.7 L1403.3 1251.3 L1406.3 1253.6 L1409.5 1255.5 L1412.7 1257.2 L1416.2 1258.8 L1419.8 1260.5 L1423.5 1262.2 L1427.1 1264.0 L1430.6 1265.9 L1433.9 1267.9 L1437.1 1270.0 L1440.2 1272.1 L1443.3 1274.3 L1446.5 1276.6 L1449.7 1278.8 L1452.9 1281.0 L1456.2 1283.1 L1459.5 1285.0 L1463.0 1286.9 L1466.6 1288.7 L1470.3 1290.4 L1474.0 1292.0 L1477.8 1293.5 L1481.5 1294.9 L1485.1 1296.3 L1488.7 1297.7 L1492.4 1299.2 L1496.2 1300.8 L1500.2 1302.5 L1504.1 1304.1 L1507.8 1305.6 L1511.3 1306.6 L1514.6 1307.1 L1518.0 1306.7 L1521.2 1305.4 L1524.4 1303.9 L1527.7 1303.0 L1531.0 1303.0 L1534.5 1303.8 L1538.1 1305.1 L1541.9 1306.6 L1545.8 1308.3 L1549.7 1310.0 L1553.4 1311.7 L1557.0 1313.3 L1560.4 1315.0 L1564.0 1316.7 L1567.6 1318.4 L1571.2 1320.2 L1574.8 1321.9 L1578.4 1323.5 L1582.1 1324.9 L1585.8 1326.3 L1589.5 1327.6 L1593.3 1328.8 L1597.0 1329.9 L1600.8 1331.0 L1604.5 1332.0 L1608.2 1333.0 L1612.0 1334.0 L1615.8 1335.0 L1619.5 1336.0 L1623.2 1336.9 L1627.0 1337.8 L1630.8 1338.7 L1634.5 1339.5 L1638.3 1340.3 L1642.0 1340.9 L1645.8 1341.5 L1649.5 1342.0 L1653.2 1342.5 L1657.0 1342.8 L1660.7 1343.2 L1664.5 1343.5 L1668.2 1343.7 L1671.9 1344.0 L1675.6 1344.2 L1679.2 1344.3 L1682.7 1344.5 L1686.3 1344.6 L1689.9 1344.6 L1693.7 1344.7 L1697.7 1344.9 L1701.7 1345.0 L1705.6 1345.1 L1709.6 1345.2 L1713.8 1345.3 L1718.0 1345.3 L1722.4 1345.4 L1726.7 1345.5 L1730.9 1345.7 L1734.9 1345.9 L1738.6 1346.2 L1742.2 1346.8 L1745.7 1347.9 L1749.0 1349.6 L1751.9 1351.9 L1754.6 1354.3 L1757.3 1356.4 L1760.5 1357.8 L1764.1 1358.9 L1768.0 1359.6 L1771.9 1360.2 L1775.9 1360.7 L1779.7 1361.1 L1783.5 1361.4 L1787.2 1361.7 L1791.0 1361.8 L1794.6 1361.9 L1798.3 1362.0 L1801.9 1361.9 L1805.6 1361.8 L1809.2 1361.6 L1812.9 1361.4 L1816.7 1361.2 L1820.4 1360.9 L1824.1 1360.6 L1827.8 1360.3 L1831.5 1360.0 L1835.4 1359.7 L1839.3 1359.5 L1843.2 1359.2 L1847.2 1359.1 L1851.5 1358.9 L1855.9 1358.9 L1860.3 1358.9 L1864.6 1358.9 L1868.5 1358.9 L1871.6 1359.0 L1873.6 1359.0" stroke="#2a5e44" stroke-width="5.0"/>
<path d="M346.9 471.4 L348.2 473.6 L349.9 476.6 L351.8 480.0 L353.4 483.4 L354.9 486.8 L356.3 490.3 L357.8 494.0 L359.1 497.7 L360.3 501.5 L361.4 505.1 L362.4 508.8 L363.4 512.5 L364.5 516.1 L365.7 519.7 L367.1 523.3 L368.5 526.7 L369.9 530.1 L371.3 533.4 L372.7 536.7 L374.1 539.9 L375.5 543.1 L377.2 546.2 L379.0 549.4 L381.0 552.6 L383.1 555.8 L385.4 559.0 L387.7 562.0 L390.1 564.9 L392.6 567.5 L395.2 570.0 L398.1 572.3 L401.1 574.6 L404.3 576.8 L407.6 578.9 L411.1 581.0 L414.7 583.1 L418.3 585.2 L421.8 587.3 L425.1 589.3 L428.3 591.3 L431.5 593.2 L434.5 595.1 L437.3 597.1 L440.0 599.1 L442.9 601.4 L445.8 603.9 L448.7 606.3 L451.4 608.7 L453.9 610.9 L456.2 613.1 L458.4 615.3 L460.6 617.8 L462.8 620.3 L465.0 622.9 L467.3 625.8 L469.8 628.8 L472.3 632.0 L474.9 635.3 L477.4 638.6 L479.8 641.8 L482.1 645.0 L484.3 648.3 L486.6 651.6 L488.8 655.0 L491.1 658.4 L493.3 661.8 L495.4 665.1 L497.4 668.3 L499.3 671.4 L501.3 674.6 L503.2 677.9 L505.1 681.2 L506.8 684.4 L508.4 687.4 L510.1 690.4 L512.0 693.3 L514.0 696.2 L516.1 699.1 L518.2 702.1 L520.4 705.2 L522.6 708.4 L524.7 711.7 L526.6 715.0 L528.4 718.2 L530.1 721.6 L531.8 725.0 L533.6 728.6 L535.4 732.2 L537.2 735.8 L539.1 739.4 L541.0 742.9 L542.9 746.3 L544.8 749.7 L546.8 753.1 L548.8 756.5 L550.8 759.8 L552.8 763.2 L554.9 766.6 L556.9 770.0 L559.0 773.3 L561.0 776.7 L563.1 780.0 L565.2 783.3 L567.3 786.6 L569.4 789.9 L571.5 793.2 L573.6 796.4 L575.8 799.7 L577.9 802.9 L580.1 806.1 L582.3 809.3 L584.5 812.6 L586.8 815.9 L589.0 819.2 L591.3 822.4 L593.5 825.5 L595.7 828.5 L598.0 831.4 L600.3 834.2 L602.8 837.2 L605.4 840.0 L608.0 842.7 L610.5 845.2 L613.1 847.6 L615.8 849.9 L618.5 852.3 L621.4 854.8 L624.4 857.1 L627.3 859.4 L630.4 861.4 L633.6 863.0 L636.9 864.3 L640.5 865.2 L644.1 865.8 L647.8 866.1 L651.5 866.0 L655.2 865.8 L659.0 865.2 L662.8 864.3 L666.6 863.1 L670.1 861.6 L673.6 859.9 L676.9 857.9 L680.0 855.7 L683.1 853.3 L686.0 850.8 L688.9 848.2 L691.7 845.5 L694.4 842.8 L696.9 840.1 L699.2 837.4 L701.4 834.5 L703.5 831.3 L705.3 828.0 L706.9 824.7 L708.3 821.4 L709.8 817.8 L711.3 814.1 L712.8 810.2 L714.5 806.2 L716.2 802.2 L717.9 798.4 L719.5 794.8 L721.2 791.4 L722.9 787.9 L724.6 784.4 L726.4 780.9 L728.2 777.3 L730.0 773.8 L731.8 770.2 L733.6 766.8 L735.3 763.3 L737.0 759.9 L738.7 756.6 L740.4 753.4 L742.0 750.3 L743.6 747.3 L745.2 744.2 L746.8 741.0 L748.5 737.5 L750.2 733.6 L751.9 729.7 L753.4 725.9 L754.7 722.4 L756.0 718.9 L757.3 715.3 L758.6 711.6 L759.9 707.8 L761.3 703.8 L762.7 699.7 L764.1 695.6 L765.4 691.5 L766.8 687.4 L768.2 683.3 L769.5 679.3 L770.8 675.4 L772.1 671.7 L773.3 668.1 L774.5 664.4 L775.8 660.6 L777.2 656.7 L778.6 652.9 L779.9 649.3 L781.1 645.8 L782.3 642.5 L783.5 639.2 L784.7 635.8 L785.9 632.2 L787.2 628.4 L788.5 624.5 L789.8 620.6 L791.0 616.9 L792.0 613.4 L793.1 610.0 L794.1 606.4 L795.2 602.8 L796.3 599.1 L797.4 595.3 L798.5 591.5 L799.6 587.5 L800.8 583.6 L801.9 579.6 L803.1 575.5 L804.3 571.4 L805.6 567.4 L806.8 563.3 L808.1 559.2 L809.3 555.2 L810.5 551.4 L811.7 547.6 L813.0 543.9 L814.2 540.2 L815.5 536.4 L816.7 532.5 L818.1 528.7 L819.4 524.7 L820.7 520.8 L822.1 516.9 L823.4 513.0 L824.7 509.1 L826.1 505.2 L827.4 501.4 L828.7 497.7 L830.0 494.0 L831.3 490.4 L832.5 486.9 L833.7 483.5 L834.9 480.0 L836.2 476.4 L837.7 472.4 L839.1 468.3 L840.6 464.3 L842.1 460.4 L843.5 456.7 L844.9 453.1 L846.2 449.6 L847.5 446.2 L848.9 442.8 L850.2 439.4 L851.5 435.9 L852.9 432.4 L854.3 428.8 L855.7 425.1 L857.2 421.3 L858.7 417.5 L860.2 413.5 L861.7 409.6 L863.2 405.6 L864.8 401.6 L866.3 397.7 L867.8 393.9 L869.2 390.2 L870.6 386.7 L872.0 383.4 L873.3 380.1 L874.7 376.7 L876.4 373.1 L878.1 369.3 L879.8 365.9 L881.5 362.9 L883.2 360.1 L884.9 357.2 L886.7 354.3 L888.4 351.4 L890.2 348.5 L892.2 345.5 L894.2 342.2 L896.4 338.8 L898.6 335.3 L900.6 331.9 L902.5 328.7 L904.4 325.5 L906.2 322.2 L908.2 318.7 L910.2 315.2 L912.2 311.6 L914.3 308.0 L916.4 304.5 L918.6 301.2 L920.7 297.9 L923.0 294.8 L925.3 291.8 L928.0 288.7 L930.8 285.7 L933.7 282.9 L936.7 280.2 L939.7 277.6 L942.7 275.3 L945.7 273.1 L948.7 271.0 L951.8 268.9 L955.0 266.9 L958.5 265.1 L962.1 263.4 L965.7 261.8 L969.2 260.5 L972.7 259.3 L976.0 258.0 L979.4 256.7 L982.8 255.3 L986.2 253.9 L989.5 252.7 L992.8 251.8 L996.2 251.4 L999.7 251.5 L1003.4 252.1 L1007.1 253.1 L1010.9 254.4 L1014.6 256.0 L1018.0 257.6 L1021.4 259.5 L1024.7 261.4 L1028.0 263.5 L1031.1 265.7 L1034.2 267.9 L1037.1 270.3 L1040.0 272.9 L1042.7 275.7 L1045.2 278.7 L1047.5 281.7 L1049.8 284.8 L1051.9 287.9 L1054.0 291.0 L1056.0 294.3 L1058.0 297.5 L1060.0 300.9 L1061.9 304.2 L1063.8 307.4 L1065.5 310.4 L1067.2 313.3 L1068.9 316.4 L1070.7 319.6 L1072.6 323.0 L1074.7 326.6 L1076.6 330.0 L1078.5 333.2 L1080.3 336.4 L1082.2 339.7 L1084.2 343.1 L1086.3 346.5 L1088.4 350.1 L1090.5 353.7 L1092.6 357.3 L1094.6 360.9 L1096.5 364.3 L1098.3 367.8 L1100.1 371.3 L1101.8 374.8 L1103.5 378.5 L1105.2 382.1 L1106.7 385.6 L1108.2 389.1 L1109.6 392.6 L1111.0 396.1 L1112.3 399.7 L1113.7 403.3 L1114.9 407.0 L1116.2 410.6 L1117.4 414.2 L1118.5 417.9 L1119.6 421.5 L1120.7 425.2 L1121.8 429.0 L1122.9 432.8 L1124.0 436.8 L1125.2 440.8 L1126.3 444.7 L1127.5 448.5 L1128.6 452.2 L1129.6 455.8 L1130.7 459.5 L1131.9 463.2 L1133.0 467.0 L1134.2 470.9 L1135.3 474.7 L1136.5 478.5 L1137.6 482.4 L1138.7 486.1 L1139.8 489.8 L1140.9 493.5 L1142.1 497.2 L1143.2 500.9 L1144.4 504.7 L1145.6 508.4 L1146.7 512.0 L1147.9 515.5 L1149.0 519.1 L1150.1 522.7 L1151.2 526.3 L1152.3 530.1 L1153.4 533.9 L1154.4 537.8 L1155.3 541.6 L1156.2 545.2 L1157.0 548.8 L1157.8 552.5 L1158.5 556.2 L1159.3 560.0 L1160.0 563.9 L1160.7 567.7 L1161.5 571.6 L1162.2 575.6 L1163.0 579.5 L1163.7 583.4 L1164.5 587.3 L1165.2 591.1 L1166.0 594.9 L1166.8 598.7 L1167.5 602.4 L1168.2 606.0 L1169.0 609.6 L1169.7 613.2 L1170.4 616.7 L1171.1 620.3 L1171.9 624.0 L1172.7 627.7 L1173.5 631.5 L1174.4 635.4 L1175.4 639.4 L1176.4 643.5 L1177.4 647.5 L1178.4 651.4 L1179.4 655.1 L1180.4 658.7 L1181.4 662.3 L1182.4 666.0 L1183.5 669.8 L1184.7 673.7 L1185.8 677.6 L1187.0 681.5 L1188.2 685.5 L1189.4 689.5 L1190.6 693.5 L1191.8 697.5 L1193.0 701.5 L1194.2 705.4 L1195.3 709.3 L1196.4 713.2 L1197.5 716.9 L1198.5 720.6 L1199.5 724.4 L1200.6 728.3 L1201.6 732.3 L1202.7 736.3 L1203.7 740.4 L1204.7 744.4 L1205.6 748.4 L1206.5 752.3 L1207.4 756.2 L1208.3 760.0 L1209.2 763.8 L1210.1 767.5 L1210.9 771.2 L1211.7 774.8 L1212.5 778.4 L1213.4 782.0 L1214.2 785.6 L1215.1 789.3 L1216.0 793.2 L1216.9 797.3 L1217.9 801.3 L1218.8 805.3 L1219.7 809.2 L1220.6 813.0 L1221.5 816.8 L1222.4 820.6 L1223.3 824.2 L1224.1 827.8 L1224.9 831.4 L1225.8 834.9 L1226.6 838.5 L1227.6 842.3 L1228.5 846.1 L1229.5 850.0 L1230.4 853.7 L1231.3 857.4 L1232.2 861.0 L1233.1 864.6 L1234.1 868.3 L1235.0 872.1 L1236.0 875.9 L1236.9 879.7 L1237.8 883.5 L1238.7 887.2 L1239.6 890.9 L1240.5 894.7 L1241.4 898.6 L1242.3 902.5 L1243.2 906.4 L1244.2 910.3 L1245.1 914.2 L1246.1 918.0 L1247.0 921.8 L1248.0 925.5 L1249.1 929.2 L1250.3 933.0 L1251.5 936.9 L1252.8 940.7 L1254.1 944.4 L1255.4 948.1 L1256.7 951.7 L1258.0 955.4 L1259.3 959.0 L1260.6 962.6 L1261.8 966.3 L1263.0 970.1 L1264.1 973.8 L1265.1 977.7 L1266.1 981.6 L1267.1 985.5 L1268.0 989.4 L1269.0 993.3 L1269.9 997.2 L1270.9 1001.0 L1271.9 1004.7 L1273.0 1008.4 L1274.1 1012.2 L1275.4 1016.0 L1276.8 1019.9 L1278.2 1023.8 L1279.7 1027.6 L1281.2 1031.3 L1282.7 1034.9 L1284.2 1038.5 L1285.8 1042.0 L1287.3 1045.4 L1288.9 1048.9 L1290.6 1052.5 L1292.4 1056.0 L1294.1 1059.4 L1295.9 1062.6 L1297.6 1065.9 L1299.4 1069.1 L1301.1 1072.4 L1302.9 1075.7 L1304.6 1079.0 L1306.3 1082.2 L1308.0 1085.5 L1309.8 1088.8 L1311.7 1092.3 L1313.7 1095.9 L1315.7 1099.5 L1317.7 1102.9 L1319.6 1106.2 L1321.6 1109.6 L1323.6 1113.1 L1325.7 1116.6 L1327.8 1120.2 L1330.0 1123.8 L1332.2 1127.4 L1334.5 1130.8 L1336.7 1134.2 L1339.0 1137.5 L1341.4 1140.6 L1343.8 1143.8 L1346.4 1146.8 L1349.0 1149.7 L1351.6 1152.5 L1354.2 1155.3 L1356.8 1158.0 L1359.4 1160.8 L1362.1 1163.6 L1364.7 1166.6 L1367.3 1169.5 L1369.9 1172.6 L1372.5 1175.7 L1375.2 1178.8 L1377.8 1182.0 L1380.5 1185.2 L1383.0 1188.3 L1385.5 1191.4 L1387.8 1194.4 L1390.0 1197.4 L1392.2 1200.5 L1394.4 1203.8 L1396.3 1207.2 L1398.1 1210.5 L1399.7 1213.7 L1401.4 1217.0 L1403.1 1220.2 L1404.8 1223.5 L1406.6 1226.8 L1408.3 1230.1 L1410.1 1233.4 L1412.0 1236.8 L1414.1 1240.1 L1416.3 1243.3 L1418.7 1246.3 L1421.3 1249.1 L1423.9 1251.6 L1426.6 1254.0 L1429.5 1256.2 L1432.5 1258.4 L1435.7 1260.6 L1439.2 1262.7 L1442.9 1264.8 L1446.6 1266.7 L1450.2 1268.5 L1453.6 1270.0 L1456.9 1271.4 L1460.3 1272.8 L1463.8 1274.2 L1467.5 1275.5 L1471.2 1276.9 L1475.0 1278.2 L1478.9 1279.6 L1482.8 1280.9 L1486.6 1282.3 L1490.5 1283.6 L1494.3 1285.0 L1498.1 1286.3 L1501.8 1287.7 L1505.5 1289.1 L1509.2 1290.5 L1512.9 1291.8 L1516.6 1293.2 L1520.4 1294.6 L1524.1 1296.0 L1527.8 1297.4 L1531.5 1298.8 L1535.3 1300.2 L1539.0 1301.5 L1542.7 1302.8 L1546.4 1304.1 L1550.1 1305.4 L1553.9 1306.6 L1557.6 1307.8 L1561.4 1308.9 L1565.1 1310.0 L1568.9 1311.1 L1572.7 1312.2 L1576.5 1313.3 L1580.2 1314.3 L1584.0 1315.4 L1587.7 1316.4 L1591.4 1317.4 L1595.0 1318.4 L1598.7 1319.5 L1602.3 1320.5 L1606.0 1321.6 L1609.7 1322.8 L1613.5 1323.9 L1617.2 1325.1 L1620.8 1326.3 L1624.4 1327.4 L1628.0 1328.6 L1631.6 1329.7 L1635.2 1330.8 L1638.8 1331.9 L1642.5 1333.0 L1646.2 1334.0 L1650.0 1335.0 L1653.7 1335.9 L1657.5 1336.8 L1661.3 1337.6 L1665.1 1338.5 L1669.0 1339.3 L1672.8 1340.1 L1676.7 1340.9 L1680.6 1341.6 L1684.5 1342.3 L1688.4 1343.0 L1692.3 1343.7 L1696.1 1344.4 L1700.0 1345.0 L1703.9 1345.6 L1707.8 1346.1 L1711.8 1346.6 L1715.7 1347.1 L1719.7 1347.6 L1723.6 1348.0 L1727.6 1348.5 L1731.5 1348.9 L1735.3 1349.3 L1739.1 1349.7 L1742.8 1350.1 L1746.5 1350.6 L1750.4 1351.1 L1754.5 1351.6 L1758.9 1352.3 L1763.3 1352.9 L1767.7 1353.5 L1771.9 1354.2 L1776.0 1354.8 L1779.7 1355.4 L1783.1 1355.9 L1786.0 1356.4 L1788.1 1356.7 L1788.8 1356.8" stroke="#8e5c92" stroke-width="4.6"/>
<path d="M346.9 743.3 L348.2 745.2 L350.2 748.1 L352.5 751.4 L354.8 754.7 L356.9 757.9 L358.9 760.9 L360.9 764.0 L363.0 767.0 L365.2 770.1 L367.5 773.3 L370.0 776.4 L372.7 779.3 L375.5 782.0 L378.5 784.5 L381.7 786.8 L385.0 789.0 L388.4 791.0 L391.9 792.9 L395.5 794.7 L399.2 796.3 L402.8 797.6 L406.4 798.1 L409.8 797.6 L413.1 796.2 L416.4 794.4 L419.8 792.8 L423.2 791.8 L426.6 791.3 L430.3 791.1 L434.0 791.0 L437.9 791.0 L441.7 790.9 L445.6 790.9 L449.4 790.8 L453.3 790.8 L457.2 791.0 L461.1 791.5 L464.9 792.3 L468.6 793.5 L472.2 795.1 L475.7 797.0 L479.2 799.0 L482.7 801.0 L486.3 802.9 L489.8 804.7 L493.3 806.4 L496.9 808.0 L500.4 809.6 L504.0 811.3 L507.4 813.1 L510.7 815.0 L513.9 817.1 L516.9 819.2 L519.8 821.5 L522.7 823.8 L525.6 826.3 L528.6 828.9 L531.4 831.6 L534.3 834.3 L537.0 837.1 L539.7 839.9 L542.4 842.9 L545.1 845.9 L547.8 848.9 L550.6 851.9 L553.3 855.0 L556.0 858.0 L558.7 861.0 L561.4 864.0 L564.2 867.0 L566.9 870.0 L569.6 873.0 L572.3 875.9 L575.0 878.8 L577.7 881.6 L580.5 884.5 L583.2 887.3 L586.0 890.1 L588.8 892.9 L591.6 895.6 L594.3 898.1 L597.1 900.6 L599.9 903.0 L602.8 905.3 L605.9 907.6 L609.0 909.7 L612.2 911.7 L615.3 913.5 L618.6 915.2 L622.0 916.8 L625.7 918.4 L629.4 919.8 L633.1 921.1 L636.7 922.1 L640.2 923.0 L643.7 923.5 L646.9 923.4 L650.0 922.5 L652.6 920.7 L655.0 918.3 L657.1 915.4 L659.3 912.1 L661.5 908.7 L663.7 905.2 L665.9 901.8 L668.1 898.5 L670.4 895.3 L672.6 892.1 L674.9 888.9 L677.2 885.8 L679.5 882.7 L681.9 879.6 L684.3 876.4 L686.8 873.3 L689.3 870.2 L691.8 867.2 L694.3 864.2 L696.7 861.2 L699.0 858.3 L701.2 855.3 L703.3 852.4 L705.3 849.4 L707.2 846.3 L708.9 843.0 L710.4 839.6 L711.8 836.3 L713.0 832.8 L714.2 829.2 L715.4 825.5 L716.6 821.6 L717.9 817.8 L719.3 814.1 L720.7 810.6 L722.1 807.3 L723.5 804.2 L725.0 801.1 L726.5 797.9 L728.1 794.6 L729.7 791.1 L731.3 787.3 L732.9 783.5 L734.4 779.8 L735.7 776.4 L737.0 773.1 L738.2 769.7 L739.4 766.2 L740.7 762.6 L742.0 758.8 L743.3 755.0 L744.7 751.2 L746.0 747.2 L747.4 743.2 L748.8 739.2 L750.2 735.2 L751.6 731.1 L752.9 727.2 L754.2 723.5 L755.5 719.7 L756.8 716.0 L758.1 712.1 L759.5 708.2 L760.8 704.3 L762.2 700.3 L763.6 696.3 L764.9 692.3 L766.3 688.4 L767.6 684.5 L768.9 680.7 L770.2 676.9 L771.5 673.3 L772.7 669.7 L773.9 666.2 L775.2 662.5 L776.5 658.7 L777.9 654.8 L779.2 651.1 L780.5 647.5 L781.7 644.2 L782.9 640.8 L784.1 637.5 L785.3 634.0 L786.6 630.3 L787.9 626.5 L789.2 622.5 L790.4 618.7 L791.5 615.2 L792.5 611.7 L793.6 608.2 L794.7 604.6 L795.7 601.0 L796.8 597.2 L797.9 593.4 L799.0 589.5 L800.2 585.6 L801.3 581.6 L802.5 577.5 L803.7 573.5 L804.9 569.4 L806.2 565.3 L807.4 561.2 L808.7 557.2 L809.9 553.3 L811.1 549.5 L812.4 545.8 L813.6 542.1 L814.8 538.3 L816.1 534.5 L817.4 530.6 L818.7 526.7 L820.0 522.8 L821.4 518.9 L822.7 514.9 L824.1 511.0 L825.4 507.1 L826.7 503.3 L828.1 499.5 L829.4 495.8 L830.6 492.2 L831.9 488.6 L833.1 485.2 L834.3 481.8 L835.6 478.2 L836.9 474.4 L838.4 470.4 L839.9 466.3 L841.4 462.3 L842.8 458.6 L844.2 454.9 L845.5 451.4 L846.9 447.9 L848.2 444.5 L849.5 441.1 L850.9 437.6 L852.2 434.2 L853.6 430.6 L855.0 427.0 L856.4 423.3 L857.9 419.6 L859.3 415.8 L860.8 412.1 L862.3 408.2 L863.8 404.4 L865.3 400.7 L866.8 396.9 L868.2 393.2 L869.7 389.6 L871.1 386.0 L872.4 382.6 L873.8 379.1 L875.1 375.6 L876.5 371.9 L877.9 368.2 L879.2 364.6 L880.4 361.1 L881.6 357.8 L882.9 354.4 L884.2 351.0 L885.7 347.5 L887.2 343.9 L888.9 340.3 L890.6 336.9 L892.3 333.5 L894.1 330.0 L895.9 326.5 L897.8 323.0 L899.8 319.4 L901.8 315.7 L903.9 312.1 L906.0 308.4 L908.0 304.9 L910.1 301.4 L912.1 297.9 L914.1 294.5 L916.2 291.0 L918.3 287.5 L920.5 283.9 L922.6 280.3 L924.8 276.8 L927.0 273.4 L929.1 270.0 L931.3 266.8 L933.4 263.6 L935.6 260.6 L937.9 257.7 L940.3 254.8 L942.9 251.9 L945.7 249.0 L948.6 246.3 L951.5 243.8 L954.4 241.4 L957.3 239.2 L960.2 237.0 L963.2 235.0 L966.3 232.9 L969.7 230.8 L973.3 228.8 L976.9 227.0 L980.5 225.2 L984.0 223.6 L987.4 222.1 L990.7 220.5 L994.0 218.6 L997.2 216.7 L1000.4 215.1 L1003.5 213.9 L1006.8 213.6 L1010.1 214.0 L1013.5 214.9 L1017.0 216.3 L1020.6 218.0 L1024.1 219.9 L1027.6 221.9 L1030.8 224.1 L1033.9 226.3 L1036.9 228.7 L1039.7 231.3 L1042.5 233.9 L1045.1 236.6 L1047.6 239.3 L1050.0 242.2 L1052.4 245.1 L1054.7 248.0 L1056.8 251.1 L1058.9 254.2 L1060.9 257.5 L1062.8 260.8 L1064.7 264.2 L1066.5 267.5 L1068.2 271.0 L1069.9 274.5 L1071.7 278.1 L1073.4 281.7 L1075.1 285.2 L1076.9 288.7 L1078.7 292.2 L1080.5 295.6 L1082.3 299.1 L1084.0 302.5 L1085.8 306.0 L1087.4 309.5 L1088.9 313.0 L1090.3 316.4 L1091.5 319.9 L1092.7 323.3 L1093.8 326.8 L1095.0 330.4 L1096.1 334.1 L1097.3 337.9 L1098.5 341.6 L1099.7 345.2 L1101.0 348.9 L1102.2 352.6 L1103.5 356.4 L1104.8 360.3 L1106.1 364.2 L1107.4 368.1 L1108.7 372.0 L1110.0 375.9 L1111.2 379.7 L1112.4 383.4 L1113.7 387.1 L1114.9 390.8 L1116.1 394.6 L1117.3 398.4 L1118.5 402.2 L1119.7 406.1 L1120.8 410.0 L1121.9 413.8 L1122.9 417.5 L1123.8 421.2 L1124.7 424.9 L1125.6 428.7 L1126.5 432.5 L1127.3 436.3 L1128.2 440.1 L1129.0 443.9 L1129.9 447.7 L1130.7 451.4 L1131.6 455.2 L1132.5 458.9 L1133.3 462.7 L1134.2 466.4 L1135.1 470.1 L1135.9 473.9 L1136.8 477.6 L1137.7 481.3 L1138.6 485.0 L1139.5 488.7 L1140.5 492.4 L1141.5 496.1 L1142.6 499.8 L1143.7 503.5 L1144.8 507.2 L1146.0 510.8 L1147.2 514.5 L1148.4 518.2 L1149.7 521.9 L1150.9 525.7 L1152.1 529.6 L1153.3 533.7 L1154.3 537.7 L1155.3 541.5 L1156.2 545.2 L1157.0 548.8 L1157.8 552.4 L1158.5 556.2 L1159.3 560.0 L1160.0 563.8 L1160.7 567.7 L1161.5 571.6 L1162.2 575.5 L1163.0 579.5 L1163.7 583.4 L1164.5 587.3 L1165.2 591.1 L1166.0 594.9 L1166.8 598.7 L1167.5 602.4 L1168.2 606.0 L1169.0 609.6 L1169.7 613.2 L1170.4 616.7 L1171.1 620.3 L1171.9 624.0 L1172.7 627.7 L1173.5 631.5 L1174.4 635.4 L1175.4 639.4 L1176.4 643.5 L1177.4 647.5 L1178.4 651.4 L1179.4 655.1 L1180.4 658.7 L1181.4 662.3 L1182.4 666.0 L1183.5 669.8 L1184.7 673.7 L1185.8 677.6 L1187.0 681.5 L1188.2 685.5 L1189.4 689.5 L1190.6 693.5 L1191.8 697.5 L1193.0 701.5 L1194.2 705.4 L1195.3 709.3 L1196.4 713.2 L1197.5 716.9 L1198.5 720.6 L1199.5 724.4 L1200.6 728.3 L1201.6 732.3 L1202.7 736.3 L1203.7 740.4 L1204.7 744.4 L1205.6 748.4 L1206.5 752.3 L1207.4 756.2 L1208.3 760.0 L1209.2 763.8 L1210.1 767.5 L1210.9 771.2 L1211.7 774.8 L1212.5 778.4 L1213.4 782.0 L1214.2 785.6 L1215.1 789.3 L1216.0 793.2 L1216.9 797.3 L1217.9 801.3 L1218.8 805.3 L1219.7 809.2 L1220.6 813.0 L1221.5 816.8 L1222.4 820.6 L1223.3 824.2 L1224.1 827.8 L1224.9 831.4 L1225.8 834.9 L1226.6 838.5 L1227.6 842.3 L1228.5 846.1 L1229.5 850.0 L1230.4 853.7 L1231.3 857.4 L1232.2 861.0 L1233.1 864.6 L1234.1 868.3 L1235.0 872.1 L1236.0 875.9 L1236.9 879.8 L1237.9 883.5 L1238.8 887.2 L1239.7 891.0 L1240.6 894.9 L1241.5 898.8 L1242.5 902.8 L1243.4 906.7 L1244.4 910.6 L1245.3 914.5 L1246.2 918.3 L1247.2 922.0 L1248.1 925.7 L1249.1 929.4 L1250.2 933.3 L1251.4 937.3 L1252.6 941.3 L1253.7 945.0 L1254.9 948.7 L1256.1 952.3 L1257.2 955.9 L1258.3 959.5 L1259.4 963.2 L1260.5 966.9 L1261.6 970.6 L1262.7 974.4 L1263.8 978.2 L1264.8 981.9 L1265.8 985.6 L1266.9 989.3 L1267.9 992.9 L1269.0 996.5 L1270.1 1000.2 L1271.3 1003.9 L1272.5 1007.7 L1273.8 1011.4 L1275.0 1015.0 L1276.2 1018.6 L1277.5 1022.3 L1278.7 1026.1 L1279.9 1029.8 L1281.0 1033.5 L1282.0 1037.1 L1283.1 1040.7 L1284.1 1044.4 L1285.1 1048.1 L1286.1 1051.9 L1287.2 1055.7 L1288.3 1059.4 L1289.4 1063.1 L1290.6 1066.8 L1291.9 1070.5 L1293.2 1074.1 L1294.5 1077.7 L1295.9 1081.3 L1297.3 1084.9 L1298.7 1088.6 L1300.1 1092.3 L1301.5 1096.1 L1302.9 1099.8 L1304.3 1103.5 L1305.6 1107.1 L1306.9 1110.8 L1308.3 1114.5 L1309.6 1118.3 L1311.0 1122.1 L1312.4 1125.8 L1313.8 1129.5 L1315.2 1133.1 L1316.6 1136.6 L1318.1 1140.3 L1319.7 1144.0 L1321.4 1147.7 L1323.1 1151.4 L1324.8 1155.0 L1326.6 1158.6 L1328.4 1162.0 L1330.2 1165.4 L1332.1 1168.7 L1334.1 1172.0 L1336.2 1175.3 L1338.3 1178.6 L1340.6 1181.8 L1342.8 1184.9 L1345.2 1187.9 L1347.6 1190.9 L1350.1 1193.7 L1352.8 1196.6 L1355.6 1199.3 L1358.6 1201.9 L1361.7 1204.5 L1365.0 1207.0 L1368.3 1209.4 L1371.5 1211.9 L1374.5 1214.3 L1377.4 1216.8 L1380.0 1219.5 L1382.5 1222.6 L1384.7 1225.9 L1386.7 1229.3 L1388.5 1232.6 L1390.3 1235.9 L1392.2 1239.1 L1394.3 1242.3 L1396.6 1245.3 L1399.1 1248.3 L1401.8 1251.0 L1404.8 1253.5 L1407.9 1255.6 L1411.1 1257.4 L1414.4 1259.0 L1417.9 1260.6 L1421.6 1262.3 L1425.3 1264.1 L1428.9 1266.0 L1432.3 1267.9 L1435.5 1269.9 L1438.6 1272.0 L1441.7 1274.2 L1444.9 1276.4 L1448.1 1278.7 L1451.3 1280.9 L1454.6 1283.0 L1457.8 1285.1 L1461.2 1287.0 L1464.7 1288.8 L1468.4 1290.5 L1472.2 1292.2 L1475.9 1293.8 L1479.6 1295.2 L1483.3 1296.6 L1486.9 1298.0 L1490.5 1299.5 L1494.3 1301.0 L1498.2 1302.7 L1502.2 1304.3 L1505.9 1305.9 L1509.5 1307.2 L1513.0 1308.0 L1516.3 1308.0 L1519.6 1307.1 L1522.8 1305.6 L1526.0 1304.3 L1529.4 1303.9 L1532.8 1304.3 L1536.3 1305.4 L1540.0 1306.8 L1543.9 1308.4 L1547.8 1310.2 L1551.6 1311.8 L1555.2 1313.5 L1558.7 1315.1 L1562.2 1316.8 L1565.8 1318.6 L1569.4 1320.3 L1573.0 1322.0 L1576.6 1323.7 L1580.3 1325.2 L1583.9 1326.6 L1587.6 1328.0 L1591.4 1329.2 L1595.1 1330.3 L1598.9 1331.4 L1602.6 1332.5 L1606.4 1333.5 L1610.1 1334.5 L1613.9 1335.5 L1617.6 1336.5 L1621.4 1337.4 L1625.1 1338.4 L1628.9 1339.3 L1632.6 1340.1 L1636.4 1340.9 L1640.1 1341.6 L1643.9 1342.2 L1647.6 1342.8 L1651.4 1343.3 L1655.1 1343.7 L1658.9 1344.0 L1662.6 1344.3 L1666.4 1344.6 L1670.1 1344.9 L1673.8 1345.1 L1677.4 1345.3 L1680.9 1345.4 L1684.5 1345.5 L1688.1 1345.6 L1691.8 1345.7 L1695.7 1345.8 L1699.7 1345.9 L1703.7 1346.0 L1707.6 1346.1 L1711.7 1346.2 L1715.9 1346.3 L1720.2 1346.4 L1724.6 1346.5 L1728.8 1346.6 L1733.0 1346.8 L1736.8 1347.1 L1740.4 1347.5 L1743.9 1348.3 L1747.4 1349.7 L1750.6 1351.7 L1753.3 1354.1 L1755.9 1356.4 L1758.9 1358.2 L1762.3 1359.4 L1766.0 1360.3 L1770.0 1360.9 L1773.9 1361.5 L1777.8 1361.9 L1781.6 1362.3 L1785.4 1362.6 L1789.1 1362.8 L1792.8 1362.9 L1796.5 1362.9 L1800.1 1362.9 L1803.8 1362.9 L1807.4 1362.7 L1811.1 1362.5 L1814.8 1362.3 L1818.6 1362.0 L1822.3 1361.8 L1825.9 1361.5 L1829.6 1361.2 L1833.5 1360.9 L1837.3 1360.6 L1841.2 1360.3 L1845.2 1360.1 L1849.3 1360.0 L1853.7 1359.9 L1858.1 1359.9 L1862.5 1359.9 L1866.7 1359.9 L1870.2 1360.0 L1872.8 1360.0 L1873.6 1360.0" stroke="#28234f" stroke-width="5.0"/>
<path d="M346.6 278.2 L347.5 279.9 L348.8 282.6 L350.4 285.9 L352.3 289.6 L354.2 293.4 L356.1 297.1 L358.0 300.8 L359.8 304.3 L361.7 307.8 L363.5 311.2 L365.4 314.7 L367.2 318.0 L369.1 321.4 L371.0 324.8 L373.0 328.1 L375.0 331.5 L377.0 334.8 L379.0 338.1 L381.0 341.4 L383.0 344.6 L385.0 347.8 L387.0 350.9 L389.0 354.1 L391.0 357.2 L393.1 360.3 L395.1 363.5 L397.3 366.8 L399.5 370.1 L401.6 373.4 L403.8 376.7 L405.9 380.0 L408.0 383.1 L410.0 386.2 L412.0 389.3 L414.0 392.4 L416.0 395.6 L418.0 398.7 L420.0 401.9 L422.0 405.1 L424.0 408.3 L426.0 411.5 L428.0 414.8 L430.0 418.1 L432.0 421.5 L434.0 424.9 L436.0 428.3 L438.0 431.8 L440.0 435.2 L441.9 438.7 L443.8 442.1 L445.7 445.5 L447.5 448.9 L449.4 452.3 L451.2 455.8 L453.0 459.3 L454.8 462.7 L456.6 466.1 L458.3 469.5 L460.0 472.9 L461.7 476.4 L463.4 479.9 L465.1 483.4 L466.8 486.8 L468.4 490.3 L470.0 493.7 L471.6 497.2 L473.2 500.7 L474.8 504.2 L476.4 507.7 L478.0 511.2 L479.5 514.7 L481.0 518.1 L482.5 521.6 L484.0 525.1 L485.5 528.6 L487.0 532.1 L488.5 535.7 L490.0 539.2 L491.4 542.7 L492.8 546.2 L494.2 549.6 L495.6 553.1 L497.1 556.6 L498.5 560.2 L499.9 563.7 L501.3 567.3 L502.7 570.9 L504.1 574.5 L505.5 578.2 L506.9 581.8 L508.4 585.5 L509.8 589.2 L511.2 592.9 L512.6 596.6 L514.0 600.3 L515.3 603.9 L516.7 607.6 L518.0 611.2 L519.3 614.8 L520.7 618.4 L522.0 622.0 L523.3 625.7 L524.7 629.3 L526.0 633.0 L527.3 636.7 L528.7 640.4 L530.0 644.1 L531.3 647.8 L532.7 651.5 L534.0 655.2 L535.3 658.9 L536.7 662.6 L538.0 666.3 L539.3 670.0 L540.7 673.7 L542.0 677.4 L543.3 681.2 L544.7 684.9 L546.0 688.6 L547.3 692.3 L548.7 696.0 L550.0 699.7 L551.3 703.4 L552.7 707.1 L554.0 710.8 L555.3 714.4 L556.7 718.1 L558.0 721.7 L559.3 725.4 L560.7 729.0 L562.0 732.7 L563.4 736.4 L564.8 740.1 L566.2 743.9 L567.6 747.6 L569.1 751.3 L570.5 755.0 L571.9 758.7 L573.3 762.4 L574.8 766.1 L576.4 770.0 L578.0 773.9 L579.6 777.7 L581.2 781.5 L582.7 785.2 L584.1 788.6 L585.5 792.1 L586.8 795.7 L588.0 799.2 L589.2 802.7 L590.4 806.1 L591.6 809.4 L592.9 812.8 L594.3 816.3 L595.8 819.9 L597.4 823.7 L599.0 827.6 L600.5 831.3 L602.0 834.7 L603.4 838.1 L604.8 841.5 L606.3 845.1 L607.9 848.7 L609.5 852.4 L611.3 856.2 L613.0 859.9 L614.8 863.5 L616.7 867.0 L618.6 870.6 L620.6 874.2 L622.6 877.8 L624.7 881.5 L626.7 885.1 L628.7 888.6 L630.7 892.1 L632.5 895.4 L634.3 898.8 L636.1 902.4 L637.9 906.1 L639.5 909.7 L641.0 913.2 L642.5 916.5 L643.9 919.6 L645.5 922.7 L647.2 925.9 L649.2 929.1 L651.3 932.2 L653.5 935.3 L655.7 938.3 L658.1 941.4 L660.4 944.4 L662.9 947.5 L665.4 950.6 L667.9 953.6 L670.5 956.4 L673.3 959.0 L676.2 961.4 L679.2 963.5 L682.3 965.5 L685.6 967.2 L688.9 968.9 L692.2 970.5 L695.5 972.1 L698.9 973.5 L702.5 974.8 L706.2 975.9 L709.9 976.8 L713.7 977.4 L717.5 977.7 L721.4 978.0 L725.4 978.0 L729.3 977.8 L733.2 977.4 L737.0 976.8 L740.8 975.9 L744.4 974.7 L748.0 973.2 L751.6 971.6 L755.0 969.8 L758.2 967.9 L761.3 965.9 L764.1 963.8 L766.7 961.6 L769.4 959.2 L772.2 956.7 L775.3 954.0 L778.5 951.5 L781.6 949.2 L784.6 947.1 L787.7 945.0 L790.9 942.8 L794.3 940.6 L797.7 938.3 L801.3 936.1 L804.8 933.8 L808.4 931.5 L811.8 929.3 L815.3 927.1 L818.6 925.0 L822.0 922.9 L825.3 920.9 L828.6 918.8 L831.9 916.8 L835.2 914.8 L838.5 912.8 L841.8 910.9 L845.1 908.9 L848.4 906.9 L851.7 904.9 L855.1 902.9 L858.5 900.9 L861.9 898.8 L865.4 896.6 L868.9 894.5 L872.3 892.3 L875.8 890.2 L879.2 888.2 L882.7 886.3 L886.2 884.4 L889.6 882.7 L893.2 881.0 L896.8 879.5 L900.4 878.0 L904.1 876.6 L907.8 875.3 L911.5 874.2 L915.2 873.1 L918.9 872.2 L922.6 871.4 L926.3 870.7 L930.0 870.1 L933.8 869.7 L937.5 869.4 L941.3 869.2 L945.1 869.2 L948.9 869.3 L952.8 869.4 L956.6 869.7 L960.4 870.1 L964.2 870.5 L968.0 871.1 L971.8 871.7 L975.7 872.4 L979.5 873.2 L983.4 874.1 L987.2 875.1 L991.1 876.2 L994.9 877.3 L998.6 878.5 L1002.3 879.8 L1006.0 881.0 L1009.7 882.4 L1013.3 883.8 L1016.9 885.2 L1020.5 886.7 L1024.0 888.3 L1027.5 890.0 L1031.0 891.8 L1034.6 893.8 L1038.0 895.9 L1041.3 898.0 L1044.5 900.1 L1047.6 902.4 L1050.7 904.7 L1053.8 907.2 L1057.0 909.7 L1060.1 912.3 L1063.2 914.8 L1066.2 917.4 L1069.1 919.9 L1072.0 922.5 L1074.8 925.0 L1077.8 927.6 L1080.8 930.4 L1083.8 933.3 L1086.7 936.1 L1089.4 938.8 L1092.1 941.6 L1094.7 944.3 L1097.2 947.0 L1099.8 949.7 L1102.4 952.5 L1105.0 955.4 L1107.6 958.2 L1110.1 961.0 L1112.5 963.9 L1114.9 966.7 L1117.3 969.6 L1119.8 972.5 L1122.2 975.5 L1124.5 978.4 L1126.9 981.4 L1129.3 984.5 L1131.6 987.5 L1134.0 990.6 L1136.3 993.8 L1138.7 996.9 L1141.0 1000.0 L1143.3 1003.2 L1145.6 1006.4 L1147.9 1009.6 L1150.2 1012.8 L1152.4 1016.0 L1154.6 1019.2 L1156.8 1022.4 L1159.0 1025.5 L1161.1 1028.7 L1163.3 1031.9 L1165.4 1035.1 L1167.5 1038.3 L1169.6 1041.5 L1171.6 1044.6 L1173.8 1047.8 L1176.0 1050.9 L1178.3 1054.1 L1180.6 1057.2 L1182.9 1060.4 L1185.3 1063.5 L1187.7 1066.6 L1190.2 1069.8 L1192.6 1072.9 L1195.0 1076.0 L1197.3 1079.0 L1199.7 1082.1 L1202.0 1085.1 L1204.4 1088.1 L1206.7 1091.0 L1209.1 1094.0 L1211.6 1097.0 L1214.1 1100.0 L1216.6 1103.1 L1219.3 1106.2 L1222.0 1109.3 L1224.7 1112.5 L1227.4 1115.5 L1230.0 1118.5 L1232.6 1121.3 L1235.2 1124.2 L1237.9 1127.0 L1240.5 1129.7 L1243.1 1132.3 L1245.7 1134.8 L1248.3 1137.4 L1250.9 1139.9 L1253.6 1142.5 L1256.3 1145.1 L1259.0 1147.8 L1261.7 1150.4 L1264.5 1153.0 L1267.3 1155.6 L1270.2 1158.1 L1273.2 1160.5 L1276.3 1163.0 L1279.5 1165.3 L1282.7 1167.6 L1285.8 1169.8 L1289.0 1172.0 L1292.2 1174.1 L1295.3 1176.2 L1298.5 1178.3 L1301.7 1180.2 L1304.9 1182.1 L1308.1 1184.0 L1311.4 1185.7 L1314.7 1187.3 L1318.0 1188.9 L1321.5 1190.5 L1325.0 1192.1 L1328.5 1193.8 L1332.0 1195.5 L1335.4 1197.2 L1339.0 1198.9 L1342.7 1200.7 L1346.4 1202.4 L1350.1 1204.1 L1353.7 1205.7 L1357.3 1207.2 L1360.9 1208.7 L1364.6 1210.1 L1368.3 1211.5 L1372.1 1212.7 L1375.9 1213.8 L1379.8 1214.8 L1383.5 1215.5 L1387.2 1216.0 L1390.9 1216.4 L1394.7 1216.6 L1398.5 1216.9 L1402.4 1217.2 L1406.3 1217.7 L1410.1 1218.3 L1413.9 1219.2 L1417.6 1220.2 L1421.3 1221.5 L1425.0 1222.9 L1428.7 1224.4 L1432.4 1226.1 L1436.1 1227.7 L1439.8 1229.3 L1443.5 1230.8 L1447.2 1232.2 L1450.9 1233.6 L1454.7 1234.8 L1458.5 1235.9 L1462.2 1237.0 L1466.0 1238.0 L1469.8 1239.0 L1473.5 1240.1 L1477.3 1241.2 L1481.1 1242.4 L1484.8 1243.7 L1488.5 1245.0 L1492.2 1246.5 L1495.9 1247.9 L1499.6 1249.4 L1503.3 1251.0 L1507.0 1252.5 L1510.7 1254.0 L1514.3 1255.5 L1518.0 1257.0 L1521.6 1258.4 L1525.2 1259.8 L1528.8 1261.1 L1532.4 1262.5 L1536.0 1263.8 L1539.5 1265.2 L1543.1 1266.5 L1546.6 1267.9 L1550.2 1269.3 L1553.8 1270.7 L1557.4 1272.2 L1560.9 1273.6 L1564.5 1275.1 L1568.0 1276.6 L1571.6 1278.1 L1575.2 1279.5 L1578.8 1281.0 L1582.4 1282.5 L1586.1 1284.0 L1589.8 1285.5 L1593.6 1287.0 L1597.5 1288.6 L1601.5 1290.1 L1605.3 1291.7 L1609.1 1293.2 L1612.8 1294.6 L1616.3 1296.1 L1619.7 1297.5 L1623.3 1299.1 L1626.8 1300.8 L1630.1 1302.5 L1633.3 1304.1 L1636.5 1305.5 L1640.0 1306.8 L1643.5 1307.9 L1647.2 1308.9 L1651.1 1309.7 L1655.0 1310.6 L1659.0 1311.4 L1663.0 1312.2 L1666.9 1313.0 L1670.7 1313.8 L1674.4 1314.6 L1678.1 1315.4 L1681.9 1316.3 L1685.6 1317.1 L1689.4 1317.8 L1693.1 1318.6 L1696.9 1319.4 L1700.7 1320.1 L1704.5 1320.8 L1708.3 1321.5 L1712.1 1322.2 L1715.8 1322.8 L1719.6 1323.4 L1723.4 1323.9 L1727.5 1324.3 L1731.7 1324.6 L1735.7 1324.8 L1739.5 1325.3 L1742.8 1326.2 L1745.4 1327.9 L1747.1 1330.5 L1748.1 1333.9 L1748.7 1337.7 L1749.5 1341.4 L1750.8 1344.5 L1753.0 1347.1 L1756.0 1349.1 L1759.6 1350.6 L1763.4 1351.7 L1767.0 1352.5 L1770.7 1353.1 L1774.4 1353.5 L1778.3 1353.9 L1782.2 1354.3 L1786.2 1354.6 L1790.1 1354.8 L1794.0 1355.1 L1797.8 1355.3 L1801.7 1355.4 L1805.5 1355.6 L1809.3 1355.7 L1813.2 1355.8 L1817.0 1355.9 L1820.8 1356.1 L1824.5 1356.4 L1828.3 1356.6 L1832.0 1356.9 L1835.8 1357.2 L1839.5 1357.5 L1843.2 1357.7 L1846.9 1358.0 L1850.6 1358.2 L1854.1 1358.4 L1857.7 1358.5 L1861.2 1358.6 L1864.9 1358.8 L1868.8 1358.9 L1872.7 1358.9 L1876.7 1359.0 L1880.6 1359.0 L1884.5 1359.1 L1888.6 1359.1 L1892.8 1359.1 L1897.1 1359.1 L1901.3 1359.0 L1905.4 1359.0 L1909.4 1359.0 L1913.4 1359.0 L1917.5 1358.9 L1921.7 1358.9 L1925.9 1358.8 L1930.0 1358.7 L1933.9 1358.6 L1937.5 1358.7 L1940.8 1358.9 L1943.9 1359.5 L1946.5 1360.6 L1949.0 1362.0 L1952.0 1363.4 L1955.7 1364.4 L1959.5 1365.0 L1963.1 1365.3 L1966.7 1365.5 L1970.6 1365.6 L1974.8 1365.7 L1979.3 1365.8 L1983.8 1365.8 L1988.5 1365.9 L1993.2 1365.9 L1997.8 1365.8 L2002.3 1365.8 L2006.6 1365.7 L2010.7 1365.6 L2014.5 1365.4 L2018.2 1365.1 L2022.3 1364.5 L2026.6 1363.5 L2030.7 1362.1 L2034.2 1360.5 L2037.0 1359.0 L2039.6 1358.1 L2042.2 1358.0 L2044.8 1358.9 L2047.4 1360.8 L2050.1 1363.1 L2053.1 1365.4 L2056.3 1367.1 L2059.5 1368.3 L2062.9 1369.3 L2066.5 1370.2 L2070.3 1370.9 L2074.5 1371.6 L2078.8 1372.2 L2083.2 1372.7 L2087.2 1373.0 L2091.0 1373.2 L2094.6 1373.3 L2098.4 1373.3 L2102.2 1373.2 L2106.2 1373.2 L2110.2 1373.1 L2114.3 1373.0 L2118.5 1372.9 L2122.7 1372.8 L2126.8 1372.8 L2130.9 1372.9 L2134.8 1373.0 L2138.5 1373.2 L2141.9 1373.4 L2144.9 1373.7 L2147.8 1374.1 L2150.4 1374.5 L2153.1 1374.9 L2156.0 1375.3 L2159.1 1375.8 L2162.5 1376.2 L2166.5 1376.6 L2171.1 1377.0 L2176.3 1377.4 L2181.8 1377.7 L2187.0 1377.9 L2191.3 1378.0 L2194.8 1378.1 L2198.1 1378.2 L2201.5 1378.3 L2205.1 1378.3 L2208.8 1378.4 L2212.8 1378.4 L2216.8 1378.5 L2221.0 1378.5 L2225.3 1378.6 L2229.7 1378.6 L2234.2 1378.6 L2238.8 1378.7 L2243.5 1378.7 L2248.2 1378.7 L2253.0 1378.7 L2257.7 1378.8 L2262.5 1378.8 L2267.3 1378.8 L2272.1 1378.8 L2276.9 1378.8 L2281.6 1378.8 L2286.3 1378.9 L2290.9 1378.9 L2295.5 1378.9 L2299.9 1378.9 L2304.3 1378.9 L2308.5 1378.9 L2312.6 1378.9 L2316.6 1378.9 L2320.4 1378.9 L2324.0 1378.9 L2327.5 1378.9 L2330.8 1378.9 L2333.9 1379.0 L2336.7 1379.0 L2339.3 1379.0 L2341.4 1379.0 L2342.9 1379.0" stroke="#2a2352" stroke-width="5.2"/>
<path d="M1854.1 1372.0 L1855.7 1372.0 L1857.9 1372.1 L1860.7 1372.1 L1863.8 1372.1 L1867.1 1372.2 L1870.7 1372.2 L1874.5 1372.2 L1878.6 1372.3 L1882.7 1372.3 L1887.0 1372.4 L1891.5 1372.4 L1896.0 1372.5 L1900.5 1372.5 L1905.2 1372.6 L1909.8 1372.6 L1914.4 1372.7 L1919.0 1372.7 L1923.6 1372.8 L1928.0 1372.8 L1932.3 1372.9 L1936.5 1372.9 L1940.6 1372.9 L1944.5 1373.0 L1948.5 1373.0 L1952.7 1373.0 L1957.1 1373.0 L1961.8 1373.0 L1966.5 1373.1 L1971.2 1373.1 L1975.9 1373.1 L1980.4 1373.1 L1984.9 1373.1 L1989.3 1373.1 L1993.5 1373.1 L1997.6 1373.1 L2001.5 1373.0 L2005.2 1373.0 L2008.7 1373.0 L2011.9 1373.0 L2014.8 1373.0 L2017.3 1373.0 L2019.2 1373.0 L2019.9 1373.0" stroke="#dcc6a2" stroke-width="9"/>
<path d="M1849.2 1362.8 L1850.9 1364.1 L1853.6 1365.9 L1856.8 1367.9 L1860.2 1369.7 L1863.8 1371.3 L1867.1 1372.5 L1869.7 1373.3 L1870.6 1373.6" stroke="#4a9a5a" stroke-width="6"/>
<path d="M2023.3 1370.1 L2025.4 1370.4 L2028.5 1370.7 L2032.2 1371.1 L2036.2 1371.6 L2040.2 1372.1 L2044.3 1372.6 L2048.2 1373.1 L2051.4 1373.5 L2053.6 1373.8" stroke="#4a9a5a" stroke-width="6"/>
<path d="M2164.3 1376.0 L2166.4 1376.1 L2169.5 1376.2 L2173.4 1376.3 L2177.8 1376.4 L2182.5 1376.5 L2187.2 1376.6 L2191.6 1376.7 L2195.5 1376.8 L2198.6 1376.9 L2200.7 1377.0" stroke="#4a9a5a" stroke-width="6"/>
<path d="M505.6 635.1 L506.4 636.8 L507.7 639.3 L509.3 642.5 L511.1 646.0 L513.1 649.9 L515.1 653.9 L517.1 657.9 L519.0 661.9 L520.9 665.7 L522.6 669.3 L524.2 672.7 L525.8 676.2 L527.4 679.6 L529.0 683.1 L530.6 686.6 L532.2 690.3 L533.8 694.1 L535.3 697.9 L536.8 701.7 L538.2 705.3 L539.5 709.0 L540.7 712.7 L541.9 716.4 L543.2 720.3 L544.4 724.2 L545.6 728.1 L546.8 732.0 L548.1 735.9 L549.3 739.6 L550.5 743.2 L551.8 746.8 L553.2 750.4 L554.7 754.1 L556.4 757.9 L558.1 761.5 L559.7 765.1 L561.4 768.4 L563.1 771.7 L564.8 775.0 L566.5 778.2 L568.2 781.5 L570.0 784.9 L571.9 788.4 L573.7 791.9 L575.6 795.3 L577.5 798.7 L579.4 802.1 L581.3 805.4 L583.2 808.7 L585.0 812.0 L586.9 815.3 L588.8 818.6 L590.7 821.9 L592.6 825.1 L594.4 828.3 L596.3 831.5 L598.1 834.7 L600.0 838.1 L601.9 841.4 L603.8 844.9 L605.6 848.3 L607.5 851.8 L609.4 855.4 L611.2 858.9 L613.1 862.4 L614.9 865.9 L616.7 869.4 L618.5 872.8 L620.3 876.3 L622.0 879.7 L623.8 883.1 L625.5 886.6 L627.3 890.0 L629.2 893.4 L631.2 897.0 L633.3 900.7 L635.5 904.5 L637.7 908.3 L639.9 911.9 L641.9 915.3 L643.7 918.1 L644.9 920.2 L645.3 920.9" stroke="#14161c" stroke-width="4.2"/>
<path d="M1155.2 626.1 L1155.5 627.7 L1155.9 630.1 L1156.4 633.1 L1157.0 636.5 L1157.6 640.3 L1158.3 644.4 L1159.2 648.7 L1160.0 653.3 L1160.9 657.9 L1161.8 662.2 L1162.7 666.0 L1163.5 669.5 L1164.2 673.0 L1165.1 676.6 L1165.9 680.3 L1166.8 684.1 L1167.7 688.0 L1168.7 692.0 L1169.6 696.0 L1170.6 700.0 L1171.6 704.1 L1172.6 708.1 L1173.5 712.2 L1174.5 716.2 L1175.5 720.1 L1176.5 724.0 L1177.5 727.9 L1178.5 731.7 L1179.5 735.5 L1180.5 739.4 L1181.5 743.2 L1182.6 747.0 L1183.6 750.8 L1184.7 754.6 L1185.7 758.5 L1186.8 762.3 L1187.8 766.1 L1188.9 769.9 L1189.9 773.7 L1190.9 777.5 L1192.0 781.4 L1193.0 785.2 L1194.0 789.0 L1195.0 792.9 L1196.0 796.7 L1197.0 800.6 L1198.0 804.5 L1199.0 808.5 L1200.1 812.4 L1201.1 816.3 L1202.1 820.3 L1203.0 824.2 L1204.0 828.0 L1205.0 831.9 L1205.9 835.6 L1206.9 839.4 L1207.8 843.1 L1208.7 846.7 L1209.6 850.4 L1210.5 854.2 L1211.5 858.2 L1212.4 862.1 L1213.3 866.1 L1214.2 869.9 L1215.1 873.7 L1216.0 877.4 L1216.8 881.1 L1217.7 884.8 L1218.5 888.4 L1219.4 892.0 L1220.2 895.7 L1221.1 899.4 L1222.0 903.1 L1223.0 906.9 L1223.9 910.7 L1224.9 914.5 L1225.9 918.3 L1226.9 922.1 L1227.9 925.9 L1228.9 929.7 L1229.9 933.5 L1230.9 937.2 L1231.9 940.9 L1232.9 944.6 L1234.0 948.3 L1235.0 952.1 L1236.1 955.9 L1237.2 959.7 L1238.3 963.6 L1239.5 967.6 L1240.6 971.5 L1241.8 975.3 L1242.9 979.1 L1244.1 982.8 L1245.2 986.4 L1246.3 989.9 L1247.4 993.3 L1248.6 996.7 L1249.9 1000.4 L1251.4 1004.1 L1252.8 1007.7 L1254.3 1011.1 L1255.8 1014.4 L1257.3 1017.6 L1258.7 1020.9 L1260.2 1024.2 L1261.7 1027.7 L1263.1 1031.1 L1264.5 1034.6 L1265.9 1038.1 L1267.3 1041.7 L1268.7 1045.2 L1270.2 1048.9 L1271.7 1052.5 L1273.2 1056.1 L1274.7 1059.6 L1276.3 1063.1 L1277.8 1066.5 L1279.3 1069.8 L1280.9 1073.3 L1282.5 1076.7 L1284.3 1080.3 L1286.1 1084.1 L1287.9 1087.9 L1289.8 1091.6 L1291.6 1095.1 L1293.4 1098.5 L1295.2 1101.9 L1297.0 1105.5 L1299.0 1109.1 L1300.9 1112.8 L1302.9 1116.5 L1304.9 1120.2 L1306.9 1123.8 L1308.8 1127.4 L1310.7 1130.9 L1312.5 1134.3 L1314.3 1137.7 L1316.1 1141.3 L1318.0 1145.0 L1319.9 1148.8 L1321.7 1152.4 L1323.4 1155.9 L1325.0 1159.3 L1326.7 1162.6 L1328.4 1165.8 L1330.3 1169.0 L1332.3 1172.2 L1334.5 1175.5 L1337.0 1178.9 L1339.7 1182.3 L1342.3 1185.6 L1344.9 1188.7 L1347.2 1191.4 L1349.3 1193.8 L1350.7 1195.5 L1351.2 1196.1" stroke="#121418" stroke-width="4.4"/>
<path d="M1380.7 1219.2 L1381.7 1221.0 L1383.3 1223.8 L1385.3 1227.2 L1387.5 1230.9 L1389.8 1234.5 L1392.0 1237.9 L1394.3 1241.2 L1396.6 1244.3 L1399.1 1247.3 L1401.8 1250.0 L1404.8 1252.5 L1407.9 1254.6 L1411.1 1256.4 L1414.4 1258.0 L1417.9 1259.6 L1421.6 1261.3 L1425.3 1263.1 L1428.9 1265.0 L1432.3 1266.9 L1435.5 1268.9 L1438.6 1271.0 L1441.7 1273.2 L1444.9 1275.4 L1448.1 1277.7 L1451.3 1279.9 L1454.6 1282.0 L1457.8 1284.1 L1461.2 1286.0 L1464.7 1287.8 L1468.4 1289.5 L1472.2 1291.2 L1475.9 1292.8 L1479.6 1294.2 L1483.3 1295.6 L1486.9 1297.0 L1490.5 1298.5 L1494.3 1300.0 L1498.2 1301.7 L1502.2 1303.3 L1505.9 1304.9 L1509.5 1306.2 L1513.0 1307.0 L1516.3 1307.0 L1519.6 1306.1 L1522.8 1304.6 L1526.0 1303.3 L1529.4 1302.9 L1532.8 1303.3 L1536.3 1304.4 L1540.0 1305.8 L1543.9 1307.4 L1547.8 1309.2 L1551.6 1310.8 L1555.2 1312.5 L1558.7 1314.1 L1562.2 1315.8 L1565.8 1317.6 L1569.4 1319.3 L1573.0 1321.0 L1576.6 1322.7 L1580.3 1324.2 L1583.9 1325.6 L1587.6 1327.0 L1591.4 1328.2 L1595.1 1329.3 L1598.9 1330.4 L1602.6 1331.5 L1606.4 1332.5 L1610.1 1333.5 L1613.9 1334.5 L1617.6 1335.5 L1621.4 1336.4 L1625.1 1337.4 L1628.9 1338.3 L1632.6 1339.1 L1636.4 1339.9 L1640.1 1340.6 L1643.9 1341.2 L1647.6 1341.8 L1651.4 1342.3 L1655.1 1342.7 L1658.9 1343.0 L1662.6 1343.3 L1666.4 1343.6 L1670.1 1343.9 L1673.8 1344.1 L1677.4 1344.3 L1680.9 1344.4 L1684.5 1344.5 L1688.1 1344.6 L1691.8 1344.7 L1695.7 1344.8 L1699.7 1344.9 L1703.7 1345.0 L1707.6 1345.1 L1711.7 1345.2 L1715.9 1345.3 L1720.2 1345.4 L1724.6 1345.5 L1728.8 1345.6 L1733.0 1345.8 L1736.8 1346.1 L1740.4 1346.5 L1743.9 1347.3 L1747.4 1348.7 L1750.6 1350.7 L1753.3 1353.1 L1755.9 1355.4 L1758.9 1357.2 L1762.3 1358.4 L1766.0 1359.3 L1770.0 1359.9 L1773.9 1360.5 L1777.8 1360.9 L1781.6 1361.3 L1785.4 1361.6 L1789.1 1361.8 L1792.8 1361.9 L1796.5 1361.9 L1800.1 1361.9 L1803.8 1361.9 L1807.4 1361.7 L1811.1 1361.5 L1814.8 1361.3 L1818.6 1361.0 L1822.3 1360.8 L1825.9 1360.5 L1829.6 1360.2 L1833.5 1359.9 L1837.3 1359.6 L1841.2 1359.3 L1845.2 1359.1 L1849.3 1359.0 L1853.7 1358.9 L1858.1 1358.9 L1862.5 1358.9 L1866.7 1358.9 L1870.2 1359.0 L1872.8 1359.0 L1873.6 1359.0" stroke="#101014" stroke-width="5.0"/>
<path d="M347.4 400.1 L349.7 401.0 L352.7 403.0 L354.9 405.4 L357.0 408.3 L359.0 411.4 L361.0 414.6 L363.0 417.8 L365.0 421.0 L367.1 424.0 L369.3 427.1 L371.7 430.0 L373.9 433.0 L376.0 435.8 L378.0 438.7 L380.0 441.6 L382.3 444.7 L384.9 448.1 L387.1 450.8 L387.7 451.6" stroke="#1d6670" stroke-width="5.5"/>
<path d="M386.3 452.3 L387.9 453.7 L390.4 456.1 L393.2 458.9 L395.9 461.9 L398.2 464.9 L400.4 468.2 L402.7 471.6 L404.9 474.9 L407.1 478.1 L409.3 481.2 L411.4 484.1 L413.6 486.9 L415.9 489.9 L418.2 492.8 L420.6 495.8 L423.1 498.9 L425.5 501.9 L428.0 505.0 L430.6 508.3 L433.4 511.7 L436.0 515.0 L438.3 517.9 L439.7 519.7" stroke="#101418" stroke-width="4.6"/>
</g>
<path d="M346 66 L346 1380 Q346 1384 350 1384 L2348 1381 L2348 66 Q2348 63 2345 63 L349 63 Q346 63 346 66 Z" fill="none" stroke="#1c1c1c" stroke-width="5" stroke-linejoin="round"/>
<g stroke="#111" stroke-width="5" stroke-linecap="round">
<line x1="346" y1="225.5" x2="377.0" y2="225.5"/>
<line x1="346" y1="390.0" x2="394.0" y2="390.0"/>
<line x1="346" y1="558.7" x2="373.0" y2="558.7"/>
<line x1="346" y1="722.5" x2="396.0" y2="722.5"/>
<line x1="346" y1="886.3" x2="375.0" y2="886.3"/>
<line x1="346" y1="1050.0" x2="397.0" y2="1050.0"/>
<line x1="346" y1="1219.0" x2="377.0" y2="1219.0"/>
<line x1="599.0" y1="1382" x2="599.0" y2="1351.0"/>
<line x1="850.0" y1="1382" x2="850.0" y2="1329.0"/>
<line x1="1098.0" y1="1382" x2="1098.0" y2="1349.0"/>
<line x1="1350.0" y1="1382" x2="1350.0" y2="1344.0"/>
<line x1="1597.0" y1="1382" x2="1597.0" y2="1361.0"/>
<line x1="1849.0" y1="1382" x2="1849.0" y2="1329.0"/>
<line x1="2096.0" y1="1382" x2="2096.0" y2="1352.0"/>
</g>
<path d="M1322.5 249 L1415.5 249 L1415.5 776.5 L1464.5 776.5 L1369.8 866 L1275.2 776.5 L1322.5 776.5 Z" fill="#fcb083"/>
<defs><filter id="hb" x="-10%" y="-10%" width="120%" height="120%"><feGaussianBlur stdDeviation="2.2"/></filter></defs>
<path d="M1330 256 L1408 256 L1408 783.5 L1447 783.5 L1369.8 857 L1292.5 783.5 L1330 783.5 Z" fill="none" stroke="#ffdcc0" stroke-width="8" stroke-linejoin="miter" filter="url(#hb)"/>
<path d="M1322.5 249 L1415.5 249 L1415.5 776.5 L1464.5 776.5 L1369.8 866 L1275.2 776.5 L1322.5 776.5 Z" fill="none" stroke="#120606" stroke-width="5.5" stroke-linejoin="miter"/>
<text class="ax" font-size="92" transform="translate(207.20 89.32) scale(0.9350 0.9412)">0.8</text>
<text class="ax" font-size="92" transform="translate(206.56 422.09) scale(0.9463 0.9559)">0.6</text>
<text class="ax" font-size="92" transform="translate(206.31 750.10) scale(0.8968 0.9485)">0.4</text>
<text class="ax" font-size="92" transform="translate(205.51 1083.09) scale(0.9623 0.9559)">0.2</text>
<text class="ax" font-size="92" transform="translate(279.83 1410.38) scale(1.0578 0.9603)">0</text>
<text class="ax" font-size="92" transform="translate(272.01 1503.69) scale(0.9430 0.9574)">200</text>
<text class="ax" font-size="92" transform="translate(774.87 1504.07) scale(0.9128 0.9632)">250</text>
<text class="ax" font-size="92" transform="translate(1276.10 1503.48) scale(0.8960 0.9618)">300</text>
<text class="ax" font-size="92" transform="translate(1774.89 1503.48) scale(0.9147 0.9618)">350</text>
<text class="ax" font-size="92" transform="translate(2277.60 1503.48) scale(0.8901 0.9618)">400</text>
<text class="ax" font-size="88" transform="translate(36.28 795.27) scale(0.9190 0.9636)">Abs</text>
<text class="ax" font-size="88" transform="translate(1030.89 1609.05) scale(0.8933 0.9446)">Wavelength [nm]</text>
<text class="lb" font-size="66" transform="translate(1490.35 331.91) scale(1.0257 0.9896)">0</text>
<text class="lb" font-size="66" transform="translate(1560.25 331.87) scale(0.9512 0.9950)">minutes</text>
<text class="lb" font-size="66" transform="translate(1492.00 848.43) scale(0.9864 0.9667)">300</text>
<text class="lb" font-size="66" transform="translate(1615.85 848.38) scale(0.9468 0.9950)">minutes</text>
</svg>
</div></body></html>
